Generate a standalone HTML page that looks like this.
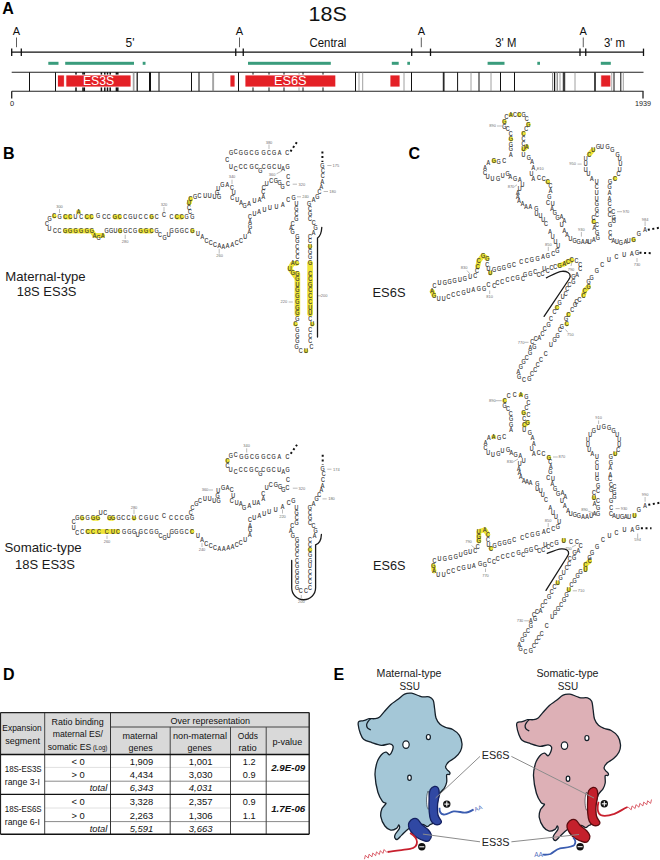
<!DOCTYPE html>
<html><head><meta charset="utf-8"><style>
html,body{margin:0;padding:0;background:#fff;width:660px;height:860px;overflow:hidden}
svg{display:block}
text{font-family:"Liberation Sans", sans-serif}
</style></head><body>
<svg width="660" height="860" viewBox="0 0 660 860">
<rect x="307.30" y="260.50" width="5.60" height="56.00" rx="2.80" fill="#eee436"/>
<rect x="294.60" y="271.00" width="5.60" height="45.50" rx="2.80" fill="#eee436"/>
<circle cx="54.20" cy="216.20" r="2.4" fill="#eee436"/>
<circle cx="65.20" cy="217.00" r="2.4" fill="#eee436"/>
<circle cx="70.20" cy="217.00" r="2.4" fill="#eee436"/>
<circle cx="86.80" cy="217.00" r="2.4" fill="#eee436"/>
<circle cx="91.40" cy="217.00" r="2.4" fill="#eee436"/>
<circle cx="114.80" cy="217.00" r="2.4" fill="#eee436"/>
<circle cx="119.60" cy="217.00" r="2.4" fill="#eee436"/>
<circle cx="151.50" cy="217.00" r="2.4" fill="#eee436"/>
<circle cx="176.80" cy="217.00" r="2.4" fill="#eee436"/>
<circle cx="181.80" cy="217.00" r="2.4" fill="#eee436"/>
<circle cx="78.50" cy="212.00" r="2.4" fill="#eee436"/>
<circle cx="189.00" cy="203.20" r="2.4" fill="#eee436"/>
<circle cx="190.50" cy="199.00" r="2.4" fill="#eee436"/>
<circle cx="310.00" cy="246.40" r="2.4" fill="#eee436"/>
<circle cx="310.10" cy="263.30" r="2.4" fill="#eee436"/>
<circle cx="310.10" cy="273.90" r="2.4" fill="#eee436"/>
<circle cx="310.10" cy="279.20" r="2.4" fill="#eee436"/>
<circle cx="310.10" cy="284.50" r="2.4" fill="#eee436"/>
<circle cx="310.10" cy="290.00" r="2.4" fill="#eee436"/>
<circle cx="310.10" cy="295.80" r="2.4" fill="#eee436"/>
<circle cx="310.10" cy="302.00" r="2.4" fill="#eee436"/>
<circle cx="310.10" cy="308.00" r="2.4" fill="#eee436"/>
<circle cx="310.10" cy="313.30" r="2.4" fill="#eee436"/>
<circle cx="312.20" cy="324.20" r="2.4" fill="#eee436"/>
<circle cx="306.00" cy="350.90" r="2.4" fill="#eee436"/>
<circle cx="295.50" cy="324.20" r="2.4" fill="#eee436"/>
<circle cx="297.40" cy="313.30" r="2.4" fill="#eee436"/>
<circle cx="297.40" cy="308.00" r="2.4" fill="#eee436"/>
<circle cx="297.40" cy="302.00" r="2.4" fill="#eee436"/>
<circle cx="297.40" cy="295.80" r="2.4" fill="#eee436"/>
<circle cx="297.40" cy="290.00" r="2.4" fill="#eee436"/>
<circle cx="297.40" cy="284.50" r="2.4" fill="#eee436"/>
<circle cx="297.40" cy="279.20" r="2.4" fill="#eee436"/>
<circle cx="297.40" cy="273.90" r="2.4" fill="#eee436"/>
<circle cx="292.80" cy="272.80" r="2.4" fill="#eee436"/>
<circle cx="289.60" cy="268.60" r="2.4" fill="#eee436"/>
<circle cx="292.80" cy="263.30" r="2.4" fill="#eee436"/>
<circle cx="297.00" cy="263.30" r="2.4" fill="#eee436"/>
<circle cx="192.40" cy="231.00" r="2.4" fill="#eee436"/>
<circle cx="65.20" cy="231.00" r="2.4" fill="#eee436"/>
<circle cx="70.20" cy="231.00" r="2.4" fill="#eee436"/>
<circle cx="75.50" cy="231.00" r="2.4" fill="#eee436"/>
<circle cx="81.20" cy="231.00" r="2.4" fill="#eee436"/>
<circle cx="86.80" cy="231.00" r="2.4" fill="#eee436"/>
<circle cx="91.80" cy="231.00" r="2.4" fill="#eee436"/>
<circle cx="94.60" cy="235.50" r="2.4" fill="#eee436"/>
<circle cx="102.70" cy="235.50" r="2.4" fill="#eee436"/>
<circle cx="120.00" cy="231.00" r="2.4" fill="#eee436"/>
<circle cx="140.50" cy="231.00" r="2.4" fill="#eee436"/>
<circle cx="146.00" cy="231.00" r="2.4" fill="#eee436"/>
<circle cx="151.50" cy="231.00" r="2.4" fill="#eee436"/>
<line x1="65.20" y1="217.00" x2="70.20" y2="217.00" stroke="#eee436" stroke-width="4.80"/>
<line x1="86.80" y1="217.00" x2="91.40" y2="217.00" stroke="#eee436" stroke-width="4.80"/>
<line x1="114.80" y1="217.00" x2="119.60" y2="217.00" stroke="#eee436" stroke-width="4.80"/>
<line x1="176.80" y1="217.00" x2="181.80" y2="217.00" stroke="#eee436" stroke-width="4.80"/>
<line x1="189.00" y1="203.20" x2="190.50" y2="199.00" stroke="#eee436" stroke-width="4.80"/>
<line x1="310.10" y1="273.90" x2="310.10" y2="279.20" stroke="#eee436" stroke-width="4.80"/>
<line x1="310.10" y1="279.20" x2="310.10" y2="284.50" stroke="#eee436" stroke-width="4.80"/>
<line x1="310.10" y1="284.50" x2="310.10" y2="290.00" stroke="#eee436" stroke-width="4.80"/>
<line x1="310.10" y1="290.00" x2="310.10" y2="295.80" stroke="#eee436" stroke-width="4.80"/>
<line x1="310.10" y1="295.80" x2="310.10" y2="302.00" stroke="#eee436" stroke-width="4.80"/>
<line x1="310.10" y1="302.00" x2="310.10" y2="308.00" stroke="#eee436" stroke-width="4.80"/>
<line x1="310.10" y1="308.00" x2="310.10" y2="313.30" stroke="#eee436" stroke-width="4.80"/>
<line x1="297.40" y1="313.30" x2="297.40" y2="308.00" stroke="#eee436" stroke-width="4.80"/>
<line x1="297.40" y1="308.00" x2="297.40" y2="302.00" stroke="#eee436" stroke-width="4.80"/>
<line x1="297.40" y1="302.00" x2="297.40" y2="295.80" stroke="#eee436" stroke-width="4.80"/>
<line x1="297.40" y1="295.80" x2="297.40" y2="290.00" stroke="#eee436" stroke-width="4.80"/>
<line x1="297.40" y1="290.00" x2="297.40" y2="284.50" stroke="#eee436" stroke-width="4.80"/>
<line x1="297.40" y1="284.50" x2="297.40" y2="279.20" stroke="#eee436" stroke-width="4.80"/>
<line x1="297.40" y1="279.20" x2="297.40" y2="273.90" stroke="#eee436" stroke-width="4.80"/>
<line x1="297.40" y1="279.20" x2="292.80" y2="272.80" stroke="#eee436" stroke-width="4.80"/>
<line x1="297.40" y1="273.90" x2="292.80" y2="272.80" stroke="#eee436" stroke-width="4.80"/>
<line x1="292.80" y1="272.80" x2="289.60" y2="268.60" stroke="#eee436" stroke-width="4.80"/>
<line x1="289.60" y1="268.60" x2="292.80" y2="263.30" stroke="#eee436" stroke-width="4.80"/>
<line x1="292.80" y1="263.30" x2="297.00" y2="263.30" stroke="#eee436" stroke-width="4.80"/>
<line x1="65.20" y1="231.00" x2="70.20" y2="231.00" stroke="#eee436" stroke-width="4.80"/>
<line x1="70.20" y1="231.00" x2="75.50" y2="231.00" stroke="#eee436" stroke-width="4.80"/>
<line x1="75.50" y1="231.00" x2="81.20" y2="231.00" stroke="#eee436" stroke-width="4.80"/>
<line x1="81.20" y1="231.00" x2="86.80" y2="231.00" stroke="#eee436" stroke-width="4.80"/>
<line x1="86.80" y1="231.00" x2="91.80" y2="231.00" stroke="#eee436" stroke-width="4.80"/>
<line x1="91.80" y1="231.00" x2="94.60" y2="235.50" stroke="#eee436" stroke-width="4.80"/>
<line x1="94.60" y1="235.50" x2="102.70" y2="235.50" stroke="#eee436" stroke-width="4.80"/>
<line x1="140.50" y1="231.00" x2="146.00" y2="231.00" stroke="#eee436" stroke-width="4.80"/>
<line x1="146.00" y1="231.00" x2="151.50" y2="231.00" stroke="#eee436" stroke-width="4.80"/>
<g font-size="6.3" fill="#303030" stroke="#303030" stroke-width="0.14" text-anchor="middle" transform="scale(0.85,1)">
<text x="58.47" y="220.70">G</text>
<text x="63.76" y="218.40">C</text>
<text x="70.00" y="219.20">G</text>
<text x="76.71" y="219.20">C</text>
<text x="82.59" y="219.20">C</text>
<text x="88.82" y="219.20">U</text>
<text x="95.53" y="219.20">C</text>
<text x="102.12" y="219.20">C</text>
<text x="107.53" y="219.20">C</text>
<text x="115.53" y="218.40">G</text>
<text x="122.59" y="219.20">C</text>
<text x="128.00" y="219.20">C</text>
<text x="135.06" y="219.20">G</text>
<text x="140.71" y="219.20">C</text>
<text x="147.41" y="219.20">C</text>
<text x="153.29" y="219.20">G</text>
<text x="159.06" y="219.20">U</text>
<text x="165.29" y="219.20">C</text>
<text x="171.76" y="219.20">C</text>
<text x="178.24" y="219.20">G</text>
<text x="184.35" y="219.20">C</text>
<text x="192.94" y="216.90">C</text>
<text x="201.76" y="219.20">C</text>
<text x="208.00" y="219.20">C</text>
<text x="213.88" y="219.20">C</text>
<text x="219.65" y="219.20">G</text>
<text x="226.35" y="219.20">G</text>
<text x="92.35" y="214.20">A</text>
<text x="223.53" y="214.20">C</text>
<text x="222.35" y="210.20">C</text>
<text x="222.35" y="205.40">U</text>
<text x="224.12" y="201.20">C</text>
<text x="229.41" y="198.70">G</text>
<text x="234.71" y="198.40">C</text>
<text x="241.53" y="198.40">U</text>
<text x="246.82" y="198.40">U</text>
<text x="252.24" y="199.50">U</text>
<text x="257.65" y="199.50">G</text>
<text x="255.29" y="195.20">G</text>
<text x="256.71" y="190.70">U</text>
<text x="261.65" y="186.90">G</text>
<text x="267.41" y="186.90">A</text>
<text x="272.94" y="189.90">C</text>
<text x="274.82" y="195.20">U</text>
<text x="273.18" y="200.00">C</text>
<text x="279.18" y="202.20">U</text>
<text x="283.53" y="204.90">A</text>
<text x="287.65" y="207.70">G</text>
<text x="292.94" y="205.80">A</text>
<text x="299.41" y="203.20">U</text>
<text x="305.41" y="202.20">A</text>
<text x="309.76" y="198.60">A</text>
<text x="309.76" y="193.70">C</text>
<text x="310.12" y="189.90">C</text>
<text x="313.76" y="186.20">U</text>
<text x="319.06" y="183.40">C</text>
<text x="324.47" y="183.40">G</text>
<text x="328.82" y="184.90">G</text>
<text x="332.47" y="189.20">G</text>
<text x="338.71" y="186.40">C</text>
<text x="271.76" y="155.50">G</text>
<text x="277.18" y="153.60">C</text>
<text x="283.41" y="155.50">G</text>
<text x="289.65" y="155.50">G</text>
<text x="295.88" y="155.50">C</text>
<text x="302.12" y="155.50">G</text>
<text x="310.12" y="155.50">G</text>
<text x="316.47" y="155.50">C</text>
<text x="322.59" y="155.50">G</text>
<text x="328.82" y="155.50">A</text>
<text x="337.76" y="155.50">C</text>
<text x="267.41" y="161.90">C</text>
<text x="271.76" y="169.50">U</text>
<text x="277.18" y="171.00">C</text>
<text x="283.06" y="169.50">C</text>
<text x="288.82" y="169.50">C</text>
<text x="295.88" y="169.50">G</text>
<text x="302.12" y="169.50">C</text>
<text x="306.24" y="173.20">G</text>
<text x="310.12" y="169.50">C</text>
<text x="316.47" y="169.50">G</text>
<text x="322.59" y="169.50">C</text>
<text x="328.82" y="169.50">U</text>
<text x="332.94" y="171.00">A</text>
<text x="338.35" y="169.50">G</text>
<text x="339.18" y="178.60">C</text>
<text x="379.29" y="167.70">G</text>
<text x="380.00" y="173.20">C</text>
<text x="379.76" y="178.00">C</text>
<text x="379.29" y="184.40">A</text>
<text x="377.88" y="189.50">A</text>
<text x="375.76" y="193.70">C</text>
<text x="373.29" y="198.60">G</text>
<text x="368.94" y="202.20">A</text>
<text x="363.53" y="205.80">G</text>
<text x="364.71" y="211.20">C</text>
<text x="364.71" y="216.20">G</text>
<text x="364.71" y="221.20">C</text>
<text x="368.94" y="225.20">C</text>
<text x="371.18" y="230.40">G</text>
<text x="368.94" y="234.90">A</text>
<text x="364.71" y="238.60">C</text>
<text x="364.71" y="243.20">C</text>
<text x="364.71" y="248.60">U</text>
<text x="364.82" y="253.80">G</text>
<text x="364.82" y="259.40">G</text>
<text x="364.82" y="265.50">G</text>
<text x="364.82" y="276.10">C</text>
<text x="364.82" y="281.40">C</text>
<text x="364.82" y="286.70">G</text>
<text x="364.82" y="292.20">C</text>
<text x="364.82" y="298.00">C</text>
<text x="364.82" y="304.20">C</text>
<text x="364.82" y="310.20">U</text>
<text x="364.82" y="315.50">U</text>
<text x="364.82" y="321.10">C</text>
<text x="367.29" y="326.40">U</text>
<text x="364.82" y="331.90">C</text>
<text x="364.82" y="337.70">C</text>
<text x="364.82" y="343.30">C</text>
<text x="366.35" y="348.90">C</text>
<text x="360.00" y="353.10">U</text>
<text x="353.88" y="353.10">C</text>
<text x="348.82" y="348.90">G</text>
<text x="349.88" y="343.30">G</text>
<text x="349.88" y="337.70">G</text>
<text x="349.88" y="331.90">G</text>
<text x="347.65" y="326.40">C</text>
<text x="349.88" y="321.10">G</text>
<text x="349.88" y="315.50">G</text>
<text x="349.88" y="310.20">G</text>
<text x="349.88" y="304.20">G</text>
<text x="349.88" y="298.00">G</text>
<text x="349.88" y="292.20">G</text>
<text x="349.88" y="286.70">U</text>
<text x="349.88" y="281.40">G</text>
<text x="349.88" y="276.10">G</text>
<text x="344.47" y="275.00">G</text>
<text x="340.71" y="270.80">U</text>
<text x="344.47" y="265.50">A</text>
<text x="349.41" y="265.50">C</text>
<text x="349.88" y="259.40">C</text>
<text x="349.88" y="253.80">C</text>
<text x="349.76" y="248.70">C</text>
<text x="349.76" y="243.20">G</text>
<text x="349.76" y="238.70">G</text>
<text x="344.35" y="234.20">G</text>
<text x="342.35" y="230.00">A</text>
<text x="344.35" y="225.80">C</text>
<text x="348.71" y="221.20">G</text>
<text x="348.71" y="216.20">C</text>
<text x="348.71" y="211.20">G</text>
<text x="348.71" y="205.80">U</text>
<text x="345.41" y="199.80">G</text>
<text x="339.06" y="202.20">C</text>
<text x="332.59" y="206.70">A</text>
<text x="325.18" y="209.50">U</text>
<text x="317.65" y="210.40">U</text>
<text x="311.18" y="211.80">U</text>
<text x="304.71" y="213.70">A</text>
<text x="299.41" y="215.80">U</text>
<text x="294.12" y="219.50">C</text>
<text x="294.12" y="224.00">A</text>
<text x="294.12" y="228.60">G</text>
<text x="293.41" y="234.10">A</text>
<text x="288.35" y="239.40">U</text>
<text x="283.41" y="242.60">C</text>
<text x="278.47" y="244.70">C</text>
<text x="273.41" y="246.80">A</text>
<text x="267.76" y="248.40">A</text>
<text x="262.82" y="249.50">A</text>
<text x="257.88" y="248.40">A</text>
<text x="252.94" y="246.80">C</text>
<text x="247.88" y="245.20">C</text>
<text x="242.82" y="242.60">C</text>
<text x="237.88" y="239.40">A</text>
<text x="232.94" y="235.70">U</text>
<text x="226.35" y="233.20">G</text>
<text x="55.29" y="226.00">C</text>
<text x="58.12" y="231.20">U</text>
<text x="64.71" y="233.20">C</text>
<text x="70.00" y="233.20">C</text>
<text x="76.71" y="233.20">G</text>
<text x="82.59" y="233.20">G</text>
<text x="88.82" y="233.20">G</text>
<text x="95.53" y="233.20">G</text>
<text x="102.12" y="233.20">G</text>
<text x="108.00" y="233.20">G</text>
<text x="111.29" y="237.70">A</text>
<text x="116.00" y="239.70">G</text>
<text x="120.82" y="237.70">A</text>
<text x="125.29" y="233.20">G</text>
<text x="130.59" y="233.20">G</text>
<text x="135.88" y="233.20">U</text>
<text x="141.18" y="233.20">G</text>
<text x="147.41" y="233.20">G</text>
<text x="153.29" y="233.20">C</text>
<text x="159.06" y="233.20">G</text>
<text x="165.29" y="233.20">G</text>
<text x="171.76" y="233.20">G</text>
<text x="178.24" y="233.20">C</text>
<text x="184.35" y="233.20">G</text>
<text x="188.24" y="236.90">C</text>
<text x="193.76" y="239.90">G</text>
<text x="198.59" y="237.20">U</text>
<text x="201.76" y="233.20">G</text>
<text x="208.00" y="233.20">G</text>
<text x="213.88" y="233.20">G</text>
<text x="219.65" y="233.20">C</text>
</g>
<g font-size="4.0" fill="#707070" text-anchor="middle">
<text x="59.50" y="207.70">300</text>
<text x="125.20" y="242.80">280</text>
<text x="164.00" y="206.10">320</text>
<text x="269.00" y="143.60">380</text>
<text x="272.20" y="175.60">360</text>
<text x="232.00" y="178.30">340</text>
<text x="301.80" y="185.50">320</text>
<text x="335.80" y="166.80">175</text>
<text x="332.70" y="192.80">180</text>
<text x="305.50" y="198.10">240</text>
<text x="219.70" y="257.10">260</text>
<text x="283.80" y="303.30">220</text>
<text x="324.20" y="297.10">200</text>
</g>
<line x1="59.5" y1="209" x2="59.5" y2="213" stroke="#777" stroke-width="0.5"/>
<line x1="125.2" y1="234.7" x2="125.2" y2="239" stroke="#777" stroke-width="0.5"/>
<line x1="164" y1="207" x2="164" y2="211.7" stroke="#777" stroke-width="0.5"/>
<line x1="269" y1="144.5" x2="269" y2="149" stroke="#777" stroke-width="0.5"/>
<line x1="276.5" y1="173.8" x2="281.8" y2="171" stroke="#777" stroke-width="0.5"/>
<line x1="232" y1="179.7" x2="232" y2="184" stroke="#777" stroke-width="0.5"/>
<line x1="292.7" y1="184.2" x2="297" y2="184.2" stroke="#777" stroke-width="0.5"/>
<line x1="327.3" y1="165.5" x2="331.5" y2="165.5" stroke="#777" stroke-width="0.5"/>
<line x1="323.6" y1="191.5" x2="328" y2="191.5" stroke="#777" stroke-width="0.5"/>
<line x1="297" y1="196.8" x2="301" y2="196.8" stroke="#777" stroke-width="0.5"/>
<line x1="219.2" y1="248.9" x2="219.2" y2="253.6" stroke="#777" stroke-width="0.5"/>
<line x1="288.6" y1="302" x2="292.8" y2="302" stroke="#777" stroke-width="0.5"/>
<line x1="317.5" y1="295.8" x2="321" y2="295.8" stroke="#777" stroke-width="0.5"/>
<line x1="290.5" y1="151.5" x2="298" y2="140.5" stroke="#111" stroke-width="2" stroke-dasharray="2 2.6"/>
<line x1="322.4" y1="151.5" x2="322.4" y2="162" stroke="#111" stroke-width="2" stroke-dasharray="2 2.6"/>
<path d="M321.8,227.3 C321.5,233 320,236.5 317.5,238 L317.5,337" fill="none" stroke="#1a1a1a" stroke-width="1.3" stroke-linecap="round"/>
<circle cx="82.10" cy="518.30" r="2.4" fill="#eee436"/>
<circle cx="93.00" cy="518.30" r="2.4" fill="#eee436"/>
<circle cx="97.90" cy="518.30" r="2.4" fill="#eee436"/>
<circle cx="109.40" cy="518.30" r="2.4" fill="#eee436"/>
<circle cx="113.00" cy="518.30" r="2.4" fill="#eee436"/>
<circle cx="134.00" cy="518.30" r="2.4" fill="#eee436"/>
<circle cx="87.60" cy="531.50" r="2.4" fill="#eee436"/>
<circle cx="93.00" cy="531.50" r="2.4" fill="#eee436"/>
<circle cx="99.00" cy="531.50" r="2.4" fill="#eee436"/>
<circle cx="106.60" cy="531.50" r="2.4" fill="#eee436"/>
<circle cx="113.00" cy="531.50" r="2.4" fill="#eee436"/>
<circle cx="117.90" cy="531.50" r="2.4" fill="#eee436"/>
<circle cx="192.00" cy="531.50" r="2.4" fill="#eee436"/>
<circle cx="227.50" cy="460.80" r="2.4" fill="#eee436"/>
<circle cx="310.00" cy="549.80" r="2.4" fill="#eee436"/>
<line x1="93.00" y1="518.30" x2="97.90" y2="518.30" stroke="#eee436" stroke-width="4.80"/>
<line x1="109.40" y1="518.30" x2="113.00" y2="518.30" stroke="#eee436" stroke-width="4.80"/>
<line x1="87.60" y1="531.50" x2="93.00" y2="531.50" stroke="#eee436" stroke-width="4.80"/>
<line x1="93.00" y1="531.50" x2="99.00" y2="531.50" stroke="#eee436" stroke-width="4.80"/>
<line x1="99.00" y1="531.50" x2="106.60" y2="531.50" stroke="#eee436" stroke-width="4.80"/>
<line x1="106.60" y1="531.50" x2="113.00" y2="531.50" stroke="#eee436" stroke-width="4.80"/>
<line x1="113.00" y1="531.50" x2="117.90" y2="531.50" stroke="#eee436" stroke-width="4.80"/>
<g font-size="6.3" fill="#303030" stroke="#303030" stroke-width="0.14" text-anchor="middle" transform="scale(0.85,1)">
<text x="90.94" y="520.00">G</text>
<text x="96.59" y="520.50">G</text>
<text x="103.06" y="520.50">G</text>
<text x="109.41" y="520.50">G</text>
<text x="115.18" y="520.50">G</text>
<text x="118.35" y="515.20">U</text>
<text x="123.76" y="515.20">C</text>
<text x="128.71" y="520.50">G</text>
<text x="132.94" y="520.50">G</text>
<text x="139.41" y="520.50">G</text>
<text x="145.06" y="520.50">C</text>
<text x="151.06" y="520.50">C</text>
<text x="157.65" y="520.50">U</text>
<text x="165.65" y="520.50">C</text>
<text x="171.76" y="520.50">G</text>
<text x="178.12" y="520.50">U</text>
<text x="184.35" y="520.50">C</text>
<text x="192.94" y="518.20">C</text>
<text x="201.18" y="520.50">C</text>
<text x="207.53" y="520.50">C</text>
<text x="213.76" y="520.50">C</text>
<text x="220.00" y="520.50">G</text>
<text x="225.88" y="520.50">G</text>
<text x="86.59" y="524.00">C</text>
<text x="86.59" y="530.40">U</text>
<text x="90.94" y="534.60">C</text>
<text x="96.59" y="534.00">C</text>
<text x="103.06" y="533.70">C</text>
<text x="109.41" y="533.70">C</text>
<text x="116.47" y="533.70">C</text>
<text x="125.41" y="533.70">C</text>
<text x="132.94" y="533.70">U</text>
<text x="138.71" y="533.70">C</text>
<text x="145.88" y="533.70">G</text>
<text x="152.24" y="533.70">G</text>
<text x="157.65" y="533.70">G</text>
<text x="162.00" y="537.50">U</text>
<text x="165.65" y="533.70">G</text>
<text x="171.76" y="533.70">C</text>
<text x="178.12" y="533.70">G</text>
<text x="184.35" y="533.70">G</text>
<text x="188.82" y="538.20">C</text>
<text x="193.53" y="540.50">G</text>
<text x="198.59" y="538.20">U</text>
<text x="202.12" y="533.70">G</text>
<text x="207.53" y="533.70">G</text>
<text x="213.76" y="533.70">G</text>
<text x="219.65" y="533.70">C</text>
<text x="225.88" y="533.70">C</text>
<text x="224.47" y="514.70">C</text>
<text x="226.47" y="510.50">C</text>
<text x="230.94" y="506.40">G</text>
<text x="235.29" y="503.00">C</text>
<text x="241.18" y="501.40">U</text>
<text x="246.71" y="501.40">U</text>
<text x="252.00" y="503.50">U</text>
<text x="257.29" y="503.50">G</text>
<text x="255.88" y="498.00">G</text>
<text x="256.82" y="493.00">U</text>
<text x="262.35" y="489.70">G</text>
<text x="267.65" y="490.20">A</text>
<text x="272.59" y="492.20">C</text>
<text x="274.47" y="498.00">U</text>
<text x="272.59" y="503.00">C</text>
<text x="278.47" y="504.70">U</text>
<text x="283.29" y="506.40">A</text>
<text x="287.29" y="509.70">G</text>
<text x="293.18" y="508.00">A</text>
<text x="299.06" y="505.50">U</text>
<text x="303.88" y="504.70">A</text>
<text x="309.76" y="501.40">A</text>
<text x="309.76" y="496.40">C</text>
<text x="313.76" y="489.70">U</text>
<text x="318.59" y="487.20">C</text>
<text x="324.47" y="487.20">G</text>
<text x="329.41" y="488.90">G</text>
<text x="333.29" y="492.20">G</text>
<text x="338.24" y="490.50">C</text>
<text x="267.65" y="463.00">C</text>
<text x="271.53" y="458.50">G</text>
<text x="277.41" y="456.90">C</text>
<text x="283.88" y="458.90">G</text>
<text x="290.24" y="458.90">G</text>
<text x="296.47" y="458.90">C</text>
<text x="302.35" y="458.90">G</text>
<text x="309.76" y="458.90">G</text>
<text x="316.12" y="458.90">C</text>
<text x="322.00" y="458.90">G</text>
<text x="328.47" y="458.90">A</text>
<text x="338.24" y="458.60">C</text>
<text x="267.65" y="468.00">C</text>
<text x="271.53" y="472.20">U</text>
<text x="277.41" y="473.90">C</text>
<text x="283.29" y="472.20">C</text>
<text x="289.18" y="472.20">C</text>
<text x="295.65" y="472.20">G</text>
<text x="302.00" y="472.20">C</text>
<text x="306.24" y="476.40">G</text>
<text x="309.76" y="472.20">C</text>
<text x="316.12" y="472.20">G</text>
<text x="322.00" y="472.20">C</text>
<text x="328.47" y="472.20">U</text>
<text x="333.29" y="474.00">A</text>
<text x="338.24" y="472.40">G</text>
<text x="338.82" y="482.00">C</text>
<text x="379.65" y="471.40">G</text>
<text x="380.71" y="476.20">C</text>
<text x="380.00" y="482.00">C</text>
<text x="379.41" y="487.80">A</text>
<text x="378.12" y="492.00">A</text>
<text x="375.65" y="496.80">C</text>
<text x="372.59" y="501.10">G</text>
<text x="368.82" y="505.80">A</text>
<text x="364.47" y="509.60">G</text>
<text x="348.82" y="509.60">U</text>
<text x="345.06" y="502.60">G</text>
<text x="339.53" y="504.80">C</text>
<text x="332.35" y="509.20">A</text>
<text x="324.47" y="512.20">U</text>
<text x="316.71" y="513.90">U</text>
<text x="310.82" y="515.90">U</text>
<text x="304.94" y="518.00">A</text>
<text x="299.06" y="520.50">U</text>
<text x="294.12" y="522.50">C</text>
<text x="294.12" y="528.00">A</text>
<text x="294.12" y="532.50">G</text>
<text x="293.76" y="537.50">A</text>
<text x="288.59" y="541.90">U</text>
<text x="283.29" y="544.70">C</text>
<text x="278.47" y="547.20">C</text>
<text x="273.53" y="549.00">A</text>
<text x="268.59" y="550.20">A</text>
<text x="263.18" y="551.40">A</text>
<text x="257.88" y="551.40">A</text>
<text x="252.94" y="550.20">C</text>
<text x="248.00" y="548.00">C</text>
<text x="242.71" y="545.90">C</text>
<text x="237.65" y="541.90">A</text>
<text x="232.94" y="538.00">U</text>
<text x="349.06" y="514.70">G</text>
<text x="349.06" y="519.70">C</text>
<text x="349.06" y="525.00">G</text>
<text x="343.88" y="528.20">C</text>
<text x="342.00" y="533.50">A</text>
<text x="344.47" y="538.20">G</text>
<text x="349.41" y="542.00">G</text>
<text x="349.41" y="546.70">G</text>
<text x="349.41" y="552.00">G</text>
<text x="349.41" y="557.30">C</text>
<text x="349.41" y="562.60">C</text>
<text x="349.41" y="568.50">G</text>
<text x="349.41" y="573.90">G</text>
<text x="349.41" y="579.20">G</text>
<text x="349.41" y="584.50">G</text>
<text x="349.41" y="589.60">G</text>
<text x="353.88" y="593.00">C</text>
<text x="360.00" y="593.00">C</text>
<text x="364.71" y="514.70">C</text>
<text x="364.71" y="519.70">G</text>
<text x="364.71" y="525.00">C</text>
<text x="368.82" y="528.20">C</text>
<text x="371.29" y="533.00">G</text>
<text x="370.00" y="538.20">A</text>
<text x="364.71" y="542.00">C</text>
<text x="364.71" y="546.70">C</text>
<text x="364.71" y="552.00">C</text>
<text x="364.71" y="557.30">G</text>
<text x="364.71" y="562.60">G</text>
<text x="364.71" y="568.50">U</text>
<text x="364.71" y="573.90">C</text>
<text x="364.71" y="579.20">C</text>
<text x="364.71" y="584.50">C</text>
<text x="364.71" y="589.60">C</text>
</g>
<g font-size="4.0" fill="#707070" text-anchor="middle">
<text x="134.00" y="508.60">280</text>
<text x="107.00" y="542.80">260</text>
<text x="205.00" y="491.30">360</text>
<text x="246.70" y="447.10">340</text>
<text x="301.80" y="489.50">320</text>
<text x="336.30" y="470.50">174</text>
<text x="331.50" y="500.20">180</text>
<text x="282.50" y="518.00">220</text>
<text x="202.00" y="551.30">240</text>
<text x="301.30" y="602.70">200</text>
</g>
<line x1="134" y1="509.5" x2="134" y2="514" stroke="#777" stroke-width="0.5"/>
<line x1="107" y1="535.5" x2="107" y2="539" stroke="#777" stroke-width="0.5"/>
<line x1="208.5" y1="490" x2="213" y2="490" stroke="#777" stroke-width="0.5"/>
<line x1="246.7" y1="448.3" x2="246.7" y2="452.5" stroke="#777" stroke-width="0.5"/>
<line x1="292.8" y1="488.2" x2="297.6" y2="488.2" stroke="#777" stroke-width="0.5"/>
<line x1="327.3" y1="469.2" x2="331.5" y2="469.2" stroke="#777" stroke-width="0.5"/>
<line x1="322.5" y1="498.9" x2="326.7" y2="498.9" stroke="#777" stroke-width="0.5"/>
<line x1="282.5" y1="509.5" x2="282.5" y2="513.5" stroke="#777" stroke-width="0.5"/>
<line x1="202" y1="543" x2="202" y2="547" stroke="#777" stroke-width="0.5"/>
<line x1="301.3" y1="595" x2="301.3" y2="598" stroke="#777" stroke-width="0.5"/>
<line x1="290.7" y1="453.8" x2="297" y2="444.8" stroke="#111" stroke-width="2" stroke-dasharray="2 2.6"/>
<line x1="322.7" y1="454.8" x2="322.7" y2="464.6" stroke="#111" stroke-width="2" stroke-dasharray="2 2.6"/>
<path d="M321.4,534.5 C321.2,540 319.5,543.5 315.6,544.8 L315.6,587.8 A11.95,11.95 0 0 1 291.7,587.8 L291.7,560.4" fill="none" stroke="#1a1a1a" stroke-width="1.3" stroke-linecap="round"/>
<circle cx="504.40" cy="121.70" r="2.4" fill="#eee436"/>
<circle cx="510.80" cy="114.80" r="2.4" fill="#eee436"/>
<circle cx="519.20" cy="114.80" r="2.4" fill="#eee436"/>
<circle cx="528.30" cy="124.40" r="2.4" fill="#eee436"/>
<circle cx="523.50" cy="133.40" r="2.4" fill="#eee436"/>
<circle cx="526.70" cy="146.70" r="2.4" fill="#eee436"/>
<circle cx="523.50" cy="149.30" r="2.4" fill="#eee436"/>
<circle cx="547.80" cy="182.00" r="2.4" fill="#eee436"/>
<circle cx="510.80" cy="139.20" r="2.4" fill="#eee436"/>
<circle cx="493.90" cy="160.90" r="2.4" fill="#eee436"/>
<circle cx="490.30" cy="273.00" r="2.4" fill="#eee436"/>
<circle cx="487.30" cy="258.50" r="2.4" fill="#eee436"/>
<circle cx="483.00" cy="255.50" r="2.4" fill="#eee436"/>
<circle cx="478.80" cy="261.00" r="2.4" fill="#eee436"/>
<circle cx="477.60" cy="267.00" r="2.4" fill="#eee436"/>
<circle cx="432.10" cy="291.20" r="2.4" fill="#eee436"/>
<circle cx="434.00" cy="295.50" r="2.4" fill="#eee436"/>
<circle cx="559.60" cy="265.50" r="2.4" fill="#eee436"/>
<circle cx="564.20" cy="263.90" r="2.4" fill="#eee436"/>
<circle cx="568.00" cy="261.70" r="2.4" fill="#eee436"/>
<circle cx="571.80" cy="260.20" r="2.4" fill="#eee436"/>
<circle cx="557.00" cy="307.40" r="2.4" fill="#eee436"/>
<circle cx="566.70" cy="324.10" r="2.4" fill="#eee436"/>
<circle cx="568.50" cy="314.40" r="2.4" fill="#eee436"/>
<circle cx="583.40" cy="295.60" r="2.4" fill="#eee436"/>
<circle cx="584.70" cy="290.50" r="2.4" fill="#eee436"/>
<circle cx="588.50" cy="286.70" r="2.4" fill="#eee436"/>
<circle cx="589.10" cy="154.60" r="2.4" fill="#eee436"/>
<circle cx="593.20" cy="149.80" r="2.4" fill="#eee436"/>
<circle cx="615.00" cy="178.40" r="2.4" fill="#eee436"/>
<circle cx="633.50" cy="239.80" r="2.4" fill="#eee436"/>
<circle cx="593.70" cy="221.70" r="2.4" fill="#eee436"/>
<line x1="526.70" y1="146.70" x2="523.50" y2="149.30" stroke="#eee436" stroke-width="4.80"/>
<line x1="487.30" y1="258.50" x2="483.00" y2="255.50" stroke="#eee436" stroke-width="4.80"/>
<line x1="483.00" y1="255.50" x2="478.80" y2="261.00" stroke="#eee436" stroke-width="4.80"/>
<line x1="478.80" y1="261.00" x2="477.60" y2="267.00" stroke="#eee436" stroke-width="4.80"/>
<line x1="432.10" y1="291.20" x2="434.00" y2="295.50" stroke="#eee436" stroke-width="4.80"/>
<line x1="559.60" y1="265.50" x2="564.20" y2="263.90" stroke="#eee436" stroke-width="4.80"/>
<line x1="564.20" y1="263.90" x2="568.00" y2="261.70" stroke="#eee436" stroke-width="4.80"/>
<line x1="568.00" y1="261.70" x2="571.80" y2="260.20" stroke="#eee436" stroke-width="4.80"/>
<line x1="583.40" y1="295.60" x2="584.70" y2="290.50" stroke="#eee436" stroke-width="4.80"/>
<line x1="584.70" y1="290.50" x2="588.50" y2="286.70" stroke="#eee436" stroke-width="4.80"/>
<line x1="589.10" y1="154.60" x2="593.20" y2="149.80" stroke="#eee436" stroke-width="4.80"/>
<g font-size="6.3" fill="#303030" stroke="#303030" stroke-width="0.14" text-anchor="middle" transform="scale(0.85,1)">
<text x="593.41" y="123.90">G</text>
<text x="595.88" y="118.60">C</text>
<text x="600.94" y="117.00">A</text>
<text x="605.88" y="117.00">C</text>
<text x="610.82" y="117.00">C</text>
<text x="615.88" y="117.00">G</text>
<text x="619.65" y="120.80">C</text>
<text x="621.53" y="126.60">G</text>
<text x="618.94" y="130.80">C</text>
<text x="615.88" y="135.60">C</text>
<text x="615.88" y="141.40">C</text>
<text x="615.88" y="145.70">C</text>
<text x="619.65" y="148.90">A</text>
<text x="615.88" y="151.50">U</text>
<text x="615.88" y="156.80">U</text>
<text x="622.12" y="159.70">G</text>
<text x="626.00" y="164.50">A</text>
<text x="627.53" y="169.90">A</text>
<text x="625.18" y="176.10">U</text>
<text x="627.53" y="180.80">A</text>
<text x="634.00" y="180.20">C</text>
<text x="639.65" y="180.80">C</text>
<text x="644.47" y="184.20">C</text>
<text x="647.65" y="188.40">C</text>
<text x="647.65" y="193.20">A</text>
<text x="646.24" y="198.60">G</text>
<text x="644.71" y="205.40">C</text>
<text x="650.24" y="206.10">U</text>
<text x="649.41" y="210.80">A</text>
<text x="652.71" y="214.90">G</text>
<text x="655.88" y="219.70">G</text>
<text x="660.71" y="219.00">A</text>
<text x="663.88" y="223.20">A</text>
<text x="660.71" y="227.20">U</text>
<text x="663.88" y="232.70">A</text>
<text x="667.06" y="237.40">A</text>
<text x="671.18" y="240.90">U</text>
<text x="676.00" y="242.90">G</text>
<text x="680.82" y="243.60">G</text>
<text x="685.65" y="244.20">A</text>
<text x="690.35" y="244.20">A</text>
<text x="693.65" y="243.60">U</text>
<text x="698.47" y="242.20">A</text>
<text x="703.29" y="240.20">G</text>
<text x="593.41" y="128.70">G</text>
<text x="597.18" y="131.40">C</text>
<text x="600.94" y="136.10">C</text>
<text x="600.94" y="141.40">G</text>
<text x="600.94" y="146.70">G</text>
<text x="600.94" y="151.50">G</text>
<text x="600.94" y="156.80">A</text>
<text x="574.59" y="165.20">A</text>
<text x="581.06" y="163.10">G</text>
<text x="586.59" y="164.50">G</text>
<text x="593.06" y="163.10">C</text>
<text x="570.59" y="169.90">A</text>
<text x="570.59" y="174.70">C</text>
<text x="573.76" y="178.80">U</text>
<text x="579.41" y="181.50">U</text>
<text x="585.88" y="180.80">G</text>
<text x="591.41" y="178.10">U</text>
<text x="597.06" y="176.10">G</text>
<text x="600.24" y="178.80">A</text>
<text x="605.88" y="180.80">G</text>
<text x="611.53" y="182.20">A</text>
<text x="614.71" y="187.00">U</text>
<text x="611.53" y="191.10">U</text>
<text x="609.06" y="195.20">A</text>
<text x="609.06" y="199.30">A</text>
<text x="610.71" y="203.40">A</text>
<text x="614.71" y="206.10">A</text>
<text x="618.94" y="208.80">A</text>
<text x="623.76" y="209.50">A</text>
<text x="631.06" y="210.80">G</text>
<text x="631.06" y="216.30">U</text>
<text x="635.88" y="218.30">U</text>
<text x="639.06" y="222.40">U</text>
<text x="642.24" y="226.50">C</text>
<text x="647.06" y="234.00">A</text>
<text x="650.24" y="238.80">U</text>
<text x="653.53" y="243.60">U</text>
<text x="656.82" y="248.20">U</text>
<text x="655.65" y="252.80">G</text>
<text x="650.71" y="256.50">C</text>
<text x="644.47" y="257.60">G</text>
<text x="638.82" y="259.20">A</text>
<text x="632.59" y="260.80">G</text>
<text x="625.76" y="261.80">G</text>
<text x="619.53" y="263.40">C</text>
<text x="613.29" y="264.50">C</text>
<text x="604.59" y="267.10">C</text>
<text x="598.94" y="268.20">G</text>
<text x="592.71" y="269.80">G</text>
<text x="587.06" y="270.80">G</text>
<text x="581.41" y="272.40">G</text>
<text x="576.82" y="275.20">U</text>
<text x="574.71" y="271.00">U</text>
<text x="573.29" y="266.70">C</text>
<text x="573.29" y="260.70">G</text>
<text x="568.24" y="257.70">G</text>
<text x="563.29" y="263.20">C</text>
<text x="561.88" y="269.20">C</text>
<text x="561.18" y="273.40">C</text>
<text x="559.06" y="277.70">C</text>
<text x="553.29" y="278.90">U</text>
<text x="546.82" y="280.70">G</text>
<text x="541.18" y="281.90">U</text>
<text x="534.71" y="283.10">G</text>
<text x="529.06" y="284.30">G</text>
<text x="523.29" y="284.90">G</text>
<text x="516.94" y="284.90">U</text>
<text x="511.18" y="288.00">C</text>
<text x="508.35" y="293.40">A</text>
<text x="510.59" y="297.70">G</text>
<text x="516.24" y="301.30">U</text>
<text x="521.88" y="301.30">U</text>
<text x="527.65" y="298.90">C</text>
<text x="533.29" y="297.00">C</text>
<text x="539.06" y="296.40">C</text>
<text x="545.41" y="294.60">G</text>
<text x="551.18" y="293.40">U</text>
<text x="556.82" y="292.20">A</text>
<text x="563.29" y="291.00">G</text>
<text x="569.65" y="291.00">G</text>
<text x="574.71" y="287.40">C</text>
<text x="581.41" y="288.30">C</text>
<text x="585.18" y="285.20">C</text>
<text x="590.82" y="283.60">C</text>
<text x="597.06" y="282.00">C</text>
<text x="603.29" y="280.90">C</text>
<text x="608.94" y="279.80">G</text>
<text x="615.18" y="281.40">C</text>
<text x="617.65" y="276.70">G</text>
<text x="623.88" y="275.60">G</text>
<text x="629.53" y="274.50">C</text>
<text x="633.88" y="277.20">C</text>
<text x="638.24" y="276.20">C</text>
<text x="640.12" y="271.40">U</text>
<text x="644.47" y="273.50">C</text>
<text x="648.82" y="270.30">C</text>
<text x="653.18" y="269.20">C</text>
<text x="658.35" y="267.70">G</text>
<text x="663.76" y="266.10">A</text>
<text x="668.24" y="263.90">C</text>
<text x="672.71" y="262.40">C</text>
<text x="678.12" y="263.10">C</text>
<text x="682.59" y="266.90">C</text>
<text x="682.59" y="271.40">C</text>
<text x="678.94" y="276.70">A</text>
<text x="674.47" y="279.00">G</text>
<text x="674.47" y="283.60">G</text>
<text x="670.00" y="286.60">C</text>
<text x="667.41" y="291.10">C</text>
<text x="665.65" y="295.70">C</text>
<text x="662.00" y="299.50">U</text>
<text x="658.47" y="304.80">G</text>
<text x="655.29" y="309.60">C</text>
<text x="652.35" y="314.20">C</text>
<text x="648.12" y="321.40">C</text>
<text x="645.29" y="326.90">G</text>
<text x="640.94" y="331.20">C</text>
<text x="638.12" y="336.00">C</text>
<text x="634.59" y="340.20">A</text>
<text x="630.35" y="341.40">C</text>
<text x="626.00" y="344.50">C</text>
<text x="628.59" y="348.90">G</text>
<text x="623.88" y="349.90">A</text>
<text x="623.53" y="355.40">G</text>
<text x="619.65" y="360.20">C</text>
<text x="615.88" y="364.50">G</text>
<text x="612.71" y="369.20">G</text>
<text x="609.65" y="374.00">A</text>
<text x="610.82" y="378.80">G</text>
<text x="616.47" y="382.00">C</text>
<text x="622.71" y="380.90">G</text>
<text x="625.88" y="376.20">C</text>
<text x="629.53" y="371.90">C</text>
<text x="632.71" y="367.20">C</text>
<text x="636.47" y="362.30">C</text>
<text x="641.88" y="355.70">C</text>
<text x="648.12" y="346.90">U</text>
<text x="652.35" y="342.00">G</text>
<text x="656.00" y="337.80">G</text>
<text x="658.82" y="331.70">C</text>
<text x="660.94" y="328.70">G</text>
<text x="666.71" y="326.30">C</text>
<text x="666.00" y="320.80">G</text>
<text x="668.82" y="316.60">C</text>
<text x="673.06" y="312.40">C</text>
<text x="676.71" y="307.50">G</text>
<text x="678.12" y="303.90">C</text>
<text x="681.65" y="302.00">C</text>
<text x="686.35" y="297.80">C</text>
<text x="687.88" y="292.70">C</text>
<text x="692.35" y="288.90">G</text>
<text x="692.35" y="283.60">G</text>
<text x="695.88" y="279.80">G</text>
<text x="702.12" y="273.00">G</text>
<text x="708.35" y="266.90">C</text>
<text x="716.47" y="262.40">U</text>
<text x="725.29" y="259.30">C</text>
<text x="734.24" y="257.00">U</text>
<text x="743.18" y="256.30">A</text>
<text x="749.41" y="255.00">G</text>
<text x="689.06" y="172.40">U</text>
<text x="689.06" y="166.30">U</text>
<text x="689.06" y="160.80">U</text>
<text x="693.06" y="156.80">C</text>
<text x="697.88" y="152.00">U</text>
<text x="703.53" y="149.20">G</text>
<text x="708.24" y="148.60">U</text>
<text x="714.71" y="149.20">G</text>
<text x="720.35" y="152.40">G</text>
<text x="726.71" y="156.80">G</text>
<text x="729.18" y="161.50">U</text>
<text x="730.00" y="166.30">U</text>
<text x="729.18" y="171.80">U</text>
<text x="727.53" y="176.50">C</text>
<text x="723.53" y="180.60">C</text>
<text x="717.88" y="184.00">G</text>
<text x="717.18" y="189.50">G</text>
<text x="717.18" y="194.60">A</text>
<text x="717.18" y="201.20">A</text>
<text x="717.18" y="206.50">C</text>
<text x="717.18" y="211.80">C</text>
<text x="721.53" y="214.50">C</text>
<text x="717.18" y="217.20">C</text>
<text x="722.24" y="219.80">G</text>
<text x="722.24" y="223.50">G</text>
<text x="717.76" y="226.70">G</text>
<text x="717.76" y="235.20">C</text>
<text x="717.76" y="240.50">C</text>
<text x="721.53" y="243.10">A</text>
<text x="725.88" y="244.20">U</text>
<text x="730.35" y="244.70">G</text>
<text x="735.88" y="243.60">A</text>
<text x="739.65" y="243.10">U</text>
<text x="745.29" y="242.00">G</text>
<text x="751.53" y="235.70">G</text>
<text x="758.94" y="232.50">A</text>
<text x="692.24" y="176.50">U</text>
<text x="696.24" y="180.60">A</text>
<text x="701.88" y="184.00">U</text>
<text x="701.88" y="189.50">C</text>
<text x="701.88" y="194.60">U</text>
<text x="701.88" y="201.20">U</text>
<text x="702.24" y="206.50">G</text>
<text x="702.24" y="211.80">G</text>
<text x="702.24" y="217.00">C</text>
<text x="698.24" y="219.80">C</text>
<text x="698.47" y="223.90">C</text>
<text x="702.24" y="226.70">C</text>
<text x="699.18" y="229.90">A</text>
<text x="702.59" y="235.20">G</text>
</g>
<g font-size="4.0" fill="#707070" text-anchor="middle">
<text x="492.70" y="127.30">890</text>
<text x="540.30" y="170.40">910</text>
<text x="511.00" y="188.10">870</text>
<text x="548.30" y="246.10">850</text>
<text x="464.20" y="268.90">830</text>
<text x="489.70" y="298.00">810</text>
<text x="572.70" y="165.40">950</text>
<text x="626.00" y="213.00">970</text>
<text x="645.10" y="220.50">984</text>
<text x="637.00" y="266.00">730</text>
<text x="570.30" y="335.70">750</text>
<text x="521.20" y="343.60">770</text>
<text x="581.40" y="231.10">930</text>
<text x="571.00" y="271.30">790</text>
</g>
<line x1="497" y1="126" x2="502" y2="126" stroke="#777" stroke-width="0.5"/>
<line x1="536" y1="171" x2="538" y2="168" stroke="#777" stroke-width="0.5"/>
<line x1="514.5" y1="186.5" x2="517" y2="184.8" stroke="#777" stroke-width="0.5"/>
<line x1="548.3" y1="246.8" x2="548.3" y2="251" stroke="#777" stroke-width="0.5"/>
<line x1="467" y1="270.5" x2="470" y2="274" stroke="#777" stroke-width="0.5"/>
<line x1="489.7" y1="290.5" x2="489.7" y2="294" stroke="#777" stroke-width="0.5"/>
<line x1="577.5" y1="164.1" x2="581.6" y2="164.1" stroke="#777" stroke-width="0.5"/>
<line x1="617" y1="211.7" x2="622" y2="211.7" stroke="#777" stroke-width="0.5"/>
<line x1="645.1" y1="221.3" x2="645.1" y2="226" stroke="#777" stroke-width="0.5"/>
<line x1="637" y1="258" x2="637" y2="262" stroke="#777" stroke-width="0.5"/>
<line x1="565.5" y1="329.5" x2="567.8" y2="332.3" stroke="#777" stroke-width="0.5"/>
<line x1="524.5" y1="342.3" x2="528.5" y2="342.3" stroke="#777" stroke-width="0.5"/>
<line x1="581.4" y1="232" x2="581.4" y2="236.6" stroke="#777" stroke-width="0.5"/>
<line x1="572" y1="261.8" x2="571" y2="266" stroke="#777" stroke-width="0.5"/>
<line x1="647.8" y1="229.8" x2="660" y2="227.6" stroke="#111" stroke-width="2" stroke-dasharray="2 2.6"/>
<line x1="639.5" y1="252.8" x2="651.5" y2="253.2" stroke="#111" stroke-width="2" stroke-dasharray="2 2.6"/>
<path d="M546.4,277.8 C553,274.5 558,271.5 562,271.3 C567,271 570.5,273 570.2,276.5 C570,278 569,279 568.5,280 L544.1,316.4" fill="none" stroke="#1a1a1a" stroke-width="1.3" stroke-linecap="round"/>
<circle cx="504.60" cy="400.70" r="2.4" fill="#eee436"/>
<circle cx="520.90" cy="394.80" r="2.4" fill="#eee436"/>
<circle cx="523.70" cy="413.00" r="2.4" fill="#eee436"/>
<circle cx="527.70" cy="422.50" r="2.4" fill="#eee436"/>
<circle cx="524.30" cy="425.20" r="2.4" fill="#eee436"/>
<circle cx="548.90" cy="457.70" r="2.4" fill="#eee436"/>
<circle cx="593.90" cy="497.70" r="2.4" fill="#eee436"/>
<circle cx="615.10" cy="453.80" r="2.4" fill="#eee436"/>
<circle cx="634.50" cy="515.50" r="2.4" fill="#eee436"/>
<circle cx="493.60" cy="436.80" r="2.4" fill="#eee436"/>
<circle cx="490.90" cy="548.50" r="2.4" fill="#eee436"/>
<circle cx="487.90" cy="534.50" r="2.4" fill="#eee436"/>
<circle cx="484.80" cy="529.70" r="2.4" fill="#eee436"/>
<circle cx="478.80" cy="531.50" r="2.4" fill="#eee436"/>
<circle cx="478.80" cy="536.40" r="2.4" fill="#eee436"/>
<circle cx="478.80" cy="541.20" r="2.4" fill="#eee436"/>
<circle cx="433.30" cy="566.00" r="2.4" fill="#eee436"/>
<circle cx="434.00" cy="571.00" r="2.4" fill="#eee436"/>
<circle cx="563.80" cy="540.50" r="2.4" fill="#eee436"/>
<circle cx="557.60" cy="582.90" r="2.4" fill="#eee436"/>
<circle cx="568.80" cy="589.70" r="2.4" fill="#eee436"/>
<circle cx="585.50" cy="569.50" r="2.4" fill="#eee436"/>
<circle cx="585.50" cy="564.70" r="2.4" fill="#eee436"/>
<circle cx="589.70" cy="561.10" r="2.4" fill="#eee436"/>
<line x1="527.70" y1="422.50" x2="524.30" y2="425.20" stroke="#eee436" stroke-width="4.80"/>
<line x1="487.90" y1="534.50" x2="484.80" y2="529.70" stroke="#eee436" stroke-width="4.80"/>
<line x1="484.80" y1="529.70" x2="478.80" y2="531.50" stroke="#eee436" stroke-width="4.80"/>
<line x1="478.80" y1="531.50" x2="478.80" y2="536.40" stroke="#eee436" stroke-width="4.80"/>
<line x1="478.80" y1="536.40" x2="478.80" y2="541.20" stroke="#eee436" stroke-width="4.80"/>
<line x1="433.30" y1="566.00" x2="434.00" y2="571.00" stroke="#eee436" stroke-width="4.80"/>
<line x1="585.50" y1="569.50" x2="585.50" y2="564.70" stroke="#eee436" stroke-width="4.80"/>
<line x1="585.50" y1="564.70" x2="589.70" y2="561.10" stroke="#eee436" stroke-width="4.80"/>
<g font-size="6.3" fill="#303030" stroke="#303030" stroke-width="0.14" text-anchor="middle" transform="scale(0.85,1)">
<text x="593.65" y="402.90">C</text>
<text x="598.35" y="398.10">C</text>
<text x="605.65" y="397.00">C</text>
<text x="612.82" y="397.00">A</text>
<text x="619.29" y="399.50">G</text>
<text x="621.65" y="404.90">C</text>
<text x="619.29" y="410.40">C</text>
<text x="616.12" y="415.20">G</text>
<text x="621.65" y="417.20">C</text>
<text x="616.82" y="421.30">C</text>
<text x="620.82" y="424.70">G</text>
<text x="616.82" y="427.40">C</text>
<text x="616.82" y="432.20">U</text>
<text x="623.29" y="434.90">G</text>
<text x="626.47" y="439.70">A</text>
<text x="628.12" y="446.20">A</text>
<text x="625.65" y="451.20">U</text>
<text x="628.12" y="455.70">A</text>
<text x="633.76" y="455.20">C</text>
<text x="639.29" y="456.50">C</text>
<text x="645.76" y="459.90">G</text>
<text x="647.41" y="464.00">C</text>
<text x="648.12" y="468.80">A</text>
<text x="647.41" y="473.60">G</text>
<text x="644.94" y="480.40">C</text>
<text x="650.59" y="481.10">U</text>
<text x="649.76" y="486.50">A</text>
<text x="652.94" y="491.00">G</text>
<text x="656.47" y="495.60">G</text>
<text x="661.76" y="495.30">A</text>
<text x="664.94" y="499.30">A</text>
<text x="661.06" y="503.50">U</text>
<text x="664.47" y="508.40">A</text>
<text x="668.24" y="512.90">A</text>
<text x="671.41" y="515.60">U</text>
<text x="676.24" y="517.00">G</text>
<text x="681.06" y="518.40">G</text>
<text x="685.88" y="519.00">A</text>
<text x="690.71" y="519.00">A</text>
<text x="695.53" y="518.40">U</text>
<text x="699.53" y="516.30">A</text>
<text x="703.53" y="515.60">G</text>
<text x="703.53" y="510.20">G</text>
<text x="699.53" y="506.10">A</text>
<text x="703.53" y="502.70">C</text>
<text x="698.71" y="499.90">U</text>
<text x="698.71" y="495.20">C</text>
<text x="703.53" y="493.20">C</text>
<text x="703.53" y="487.70">G</text>
<text x="702.35" y="481.40">G</text>
<text x="702.35" y="476.70">U</text>
<text x="702.35" y="470.30">U</text>
<text x="702.35" y="465.00">C</text>
<text x="702.35" y="459.20">U</text>
<text x="696.82" y="456.50">A</text>
<text x="693.06" y="452.30">U</text>
<text x="691.76" y="447.00">U</text>
<text x="691.76" y="441.70">U</text>
<text x="694.24" y="436.90">U</text>
<text x="698.71" y="432.70">G</text>
<text x="704.24" y="430.00">U</text>
<text x="710.47" y="428.90">G</text>
<text x="716.71" y="430.00">G</text>
<text x="721.76" y="432.70">G</text>
<text x="726.12" y="436.90">U</text>
<text x="728.59" y="441.70">U</text>
<text x="728.59" y="447.00">U</text>
<text x="727.41" y="451.70">C</text>
<text x="723.65" y="456.00">U</text>
<text x="718.59" y="459.20">G</text>
<text x="718.59" y="465.00">G</text>
<text x="718.00" y="470.30">A</text>
<text x="718.00" y="476.70">A</text>
<text x="718.00" y="481.40">C</text>
<text x="718.82" y="486.80">C</text>
<text x="722.82" y="489.00">C</text>
<text x="718.82" y="492.40">G</text>
<text x="722.82" y="495.20">G</text>
<text x="722.82" y="499.20">G</text>
<text x="718.82" y="502.70">G</text>
<text x="718.94" y="510.50">C</text>
<text x="718.82" y="515.80">C</text>
<text x="722.47" y="518.00">A</text>
<text x="727.06" y="519.10">U</text>
<text x="731.88" y="519.40">G</text>
<text x="736.24" y="519.20">A</text>
<text x="740.35" y="518.80">U</text>
<text x="746.47" y="517.70">U</text>
<text x="751.53" y="511.80">G</text>
<text x="758.94" y="508.10">A</text>
<text x="593.65" y="407.70">G</text>
<text x="597.65" y="411.10">C</text>
<text x="600.82" y="415.80">C</text>
<text x="601.29" y="421.30">G</text>
<text x="601.29" y="426.80">G</text>
<text x="601.29" y="432.20">A</text>
<text x="575.18" y="440.40">A</text>
<text x="580.71" y="439.00">A</text>
<text x="587.18" y="439.70">G</text>
<text x="593.29" y="439.00">C</text>
<text x="571.18" y="445.00">A</text>
<text x="571.18" y="450.20">C</text>
<text x="574.35" y="455.20">U</text>
<text x="580.00" y="457.20">U</text>
<text x="586.35" y="456.50">G</text>
<text x="591.18" y="453.10">U</text>
<text x="597.65" y="451.70">G</text>
<text x="601.65" y="455.20">A</text>
<text x="606.47" y="457.20">G</text>
<text x="612.00" y="457.90">A</text>
<text x="616.12" y="462.70">U</text>
<text x="611.29" y="466.10">U</text>
<text x="610.47" y="470.80">A</text>
<text x="611.29" y="474.90">A</text>
<text x="612.82" y="479.00">A</text>
<text x="616.12" y="483.10">A</text>
<text x="620.12" y="484.50">A</text>
<text x="624.12" y="485.20">A</text>
<text x="632.12" y="486.50">G</text>
<text x="632.12" y="491.30">U</text>
<text x="636.12" y="493.40">U</text>
<text x="638.59" y="497.20">U</text>
<text x="642.35" y="502.40">C</text>
<text x="647.29" y="510.20">A</text>
<text x="650.59" y="514.90">U</text>
<text x="654.00" y="519.00">U</text>
<text x="657.76" y="523.60">U</text>
<text x="656.24" y="529.00">G</text>
<text x="650.94" y="531.50">C</text>
<text x="644.94" y="532.80">C</text>
<text x="639.65" y="534.10">A</text>
<text x="632.82" y="536.00">G</text>
<text x="626.35" y="537.20">G</text>
<text x="620.00" y="538.40">C</text>
<text x="614.24" y="539.60">C</text>
<text x="604.94" y="542.00">C</text>
<text x="599.29" y="543.90">G</text>
<text x="593.53" y="545.10">G</text>
<text x="587.88" y="546.30">G</text>
<text x="582.00" y="547.60">G</text>
<text x="577.53" y="550.70">C</text>
<text x="574.71" y="547.00">U</text>
<text x="574.00" y="542.20">C</text>
<text x="574.00" y="536.70">C</text>
<text x="570.35" y="531.90">A</text>
<text x="563.29" y="533.70">U</text>
<text x="563.29" y="538.60">G</text>
<text x="563.29" y="543.40">G</text>
<text x="561.88" y="548.90">C</text>
<text x="559.06" y="553.10">C</text>
<text x="553.29" y="554.30">U</text>
<text x="547.65" y="555.50">G</text>
<text x="541.88" y="556.70">U</text>
<text x="536.24" y="558.60">G</text>
<text x="529.76" y="559.80">G</text>
<text x="523.29" y="561.00">G</text>
<text x="516.94" y="561.00">U</text>
<text x="511.18" y="563.40">C</text>
<text x="509.76" y="568.20">G</text>
<text x="510.59" y="573.20">A</text>
<text x="515.53" y="577.40">U</text>
<text x="521.88" y="576.70">U</text>
<text x="527.65" y="574.30">C</text>
<text x="533.29" y="573.20">C</text>
<text x="539.76" y="571.30">C</text>
<text x="545.41" y="570.10">G</text>
<text x="551.88" y="568.90">U</text>
<text x="557.53" y="567.70">A</text>
<text x="564.71" y="566.40">G</text>
<text x="570.35" y="567.00">G</text>
<text x="575.41" y="563.40">C</text>
<text x="581.06" y="564.00">C</text>
<text x="585.65" y="561.20">C</text>
<text x="591.41" y="559.00">C</text>
<text x="597.18" y="557.80">C</text>
<text x="603.53" y="556.60">C</text>
<text x="610.00" y="555.40">G</text>
<text x="615.65" y="557.20">C</text>
<text x="619.29" y="553.00">G</text>
<text x="624.94" y="551.70">G</text>
<text x="630.71" y="549.90">C</text>
<text x="634.24" y="553.00">C</text>
<text x="639.18" y="552.40">C</text>
<text x="641.41" y="547.50">U</text>
<text x="644.94" y="549.30">C</text>
<text x="649.18" y="546.90">C</text>
<text x="654.94" y="545.10">G</text>
<text x="663.29" y="542.70">U</text>
<text x="671.65" y="543.90">C</text>
<text x="678.82" y="544.50">C</text>
<text x="683.06" y="548.10">C</text>
<text x="680.24" y="553.00">A</text>
<text x="675.88" y="554.80">G</text>
<text x="675.29" y="559.60">G</text>
<text x="670.24" y="561.40">C</text>
<text x="669.53" y="565.70">C</text>
<text x="666.71" y="570.50">C</text>
<text x="663.06" y="574.80">U</text>
<text x="659.53" y="579.60">G</text>
<text x="656.00" y="585.10">U</text>
<text x="652.35" y="589.30">C</text>
<text x="649.18" y="594.00">C</text>
<text x="646.00" y="598.70">G</text>
<text x="641.76" y="604.20">C</text>
<text x="638.12" y="608.40">C</text>
<text x="636.00" y="612.70">A</text>
<text x="631.76" y="613.90">C</text>
<text x="628.12" y="616.90">C</text>
<text x="629.65" y="621.20">G</text>
<text x="624.59" y="623.00">A</text>
<text x="624.59" y="628.40">G</text>
<text x="621.06" y="632.70">C</text>
<text x="617.41" y="637.50">G</text>
<text x="614.59" y="641.70">G</text>
<text x="611.06" y="646.60">A</text>
<text x="612.47" y="651.40">G</text>
<text x="618.24" y="653.90">C</text>
<text x="624.59" y="653.20">G</text>
<text x="628.12" y="648.40">C</text>
<text x="631.06" y="644.20">C</text>
<text x="633.88" y="639.90">C</text>
<text x="637.41" y="635.70">C</text>
<text x="643.18" y="628.40">C</text>
<text x="649.53" y="619.30">U</text>
<text x="653.18" y="615.10">G</text>
<text x="656.71" y="610.80">G</text>
<text x="660.24" y="606.60">C</text>
<text x="663.76" y="601.70">G</text>
<text x="666.71" y="597.50">G</text>
<text x="669.18" y="591.90">U</text>
<text x="672.35" y="586.90">C</text>
<text x="675.88" y="582.70">G</text>
<text x="679.53" y="578.40">G</text>
<text x="683.06" y="574.20">G</text>
<text x="688.82" y="571.70">U</text>
<text x="688.82" y="566.90">C</text>
<text x="693.76" y="563.30">C</text>
<text x="693.76" y="559.60">G</text>
<text x="696.59" y="554.80">G</text>
<text x="702.35" y="548.60">G</text>
<text x="709.29" y="542.50">C</text>
<text x="716.94" y="538.10">U</text>
<text x="725.29" y="534.60">C</text>
<text x="734.71" y="532.50">U</text>
<text x="744.00" y="532.00">A</text>
<text x="750.24" y="530.40">G</text>
</g>
<g font-size="4.0" fill="#707070" text-anchor="middle">
<text x="492.30" y="402.00">890</text>
<text x="561.90" y="458.30">870</text>
<text x="510.00" y="463.10">830</text>
<text x="548.20" y="521.50">850</text>
<text x="598.60" y="418.50">910</text>
<text x="624.00" y="509.90">930</text>
<text x="645.10" y="496.10">990</text>
<text x="584.50" y="510.60">890</text>
<text x="468.50" y="543.10">790</text>
<text x="485.50" y="576.50">770</text>
<text x="581.20" y="592.10">710</text>
<text x="568.50" y="549.60">750</text>
<text x="520.00" y="622.10">730</text>
<text x="637.70" y="541.10">594</text>
</g>
<line x1="495.7" y1="400.7" x2="501.8" y2="400.7" stroke="#777" stroke-width="0.5"/>
<line x1="553" y1="457" x2="557.8" y2="457" stroke="#777" stroke-width="0.5"/>
<line x1="513.4" y1="461.8" x2="518" y2="459" stroke="#777" stroke-width="0.5"/>
<line x1="548.2" y1="523" x2="548.2" y2="527" stroke="#777" stroke-width="0.5"/>
<line x1="598.6" y1="420.4" x2="598.6" y2="424" stroke="#777" stroke-width="0.5"/>
<line x1="615.5" y1="508.6" x2="619.7" y2="508.6" stroke="#777" stroke-width="0.5"/>
<line x1="645.1" y1="497" x2="645.1" y2="501.7" stroke="#777" stroke-width="0.5"/>
<line x1="588.4" y1="511.3" x2="595" y2="513.4" stroke="#777" stroke-width="0.5"/>
<line x1="471.5" y1="545.5" x2="475.2" y2="548.5" stroke="#777" stroke-width="0.5"/>
<line x1="485.5" y1="568.5" x2="485.5" y2="572" stroke="#777" stroke-width="0.5"/>
<line x1="572.7" y1="590.8" x2="577" y2="590.8" stroke="#777" stroke-width="0.5"/>
<line x1="572" y1="547" x2="576" y2="545" stroke="#777" stroke-width="0.5"/>
<line x1="524.2" y1="620.8" x2="529" y2="620.8" stroke="#777" stroke-width="0.5"/>
<line x1="637.7" y1="533.5" x2="637.7" y2="538" stroke="#777" stroke-width="0.5"/>
<line x1="648.3" y1="504.8" x2="660" y2="502.7" stroke="#111" stroke-width="2" stroke-dasharray="2 2.6"/>
<line x1="640.9" y1="528.2" x2="651.5" y2="528.2" stroke="#111" stroke-width="2" stroke-dasharray="2 2.6"/>
<path d="M547.3,553.4 C553,551 557.5,549 561.5,548.8 C566,548.6 569,550.5 568.6,553.5 C568.4,555 567.6,556 567,557 L546,590.4" fill="none" stroke="#1a1a1a" stroke-width="1.3" stroke-linecap="round"/>
<text x="2.30" y="14.10" font-size="16" text-anchor="start" fill="#000" font-weight="bold">A</text>
<text x="3.00" y="159.00" font-size="16" text-anchor="start" fill="#000" font-weight="bold">B</text>
<text x="408.50" y="159.30" font-size="16" text-anchor="start" fill="#000" font-weight="bold">C</text>
<text x="3.00" y="680.40" font-size="16" text-anchor="start" fill="#000" font-weight="bold">D</text>
<text x="333.50" y="680.40" font-size="16" text-anchor="start" fill="#000" font-weight="bold">E</text>
<text x="327.70" y="20.50" font-size="21" text-anchor="middle" fill="#111" textLength="38.2" lengthAdjust="spacingAndGlyphs">18S</text>
<line x1="11.70" y1="52.20" x2="643.50" y2="52.20" stroke="#111" stroke-width="1.3"/>
<line x1="11.70" y1="48.60" x2="11.70" y2="56.00" stroke="#111" stroke-width="1.3"/>
<line x1="21.30" y1="48.60" x2="21.30" y2="56.00" stroke="#111" stroke-width="1.3"/>
<line x1="235.75" y1="48.60" x2="235.75" y2="56.00" stroke="#111" stroke-width="1.3"/>
<line x1="243.25" y1="48.60" x2="243.25" y2="56.00" stroke="#111" stroke-width="1.3"/>
<line x1="411.70" y1="48.60" x2="411.70" y2="56.00" stroke="#111" stroke-width="1.3"/>
<line x1="430.50" y1="48.60" x2="430.50" y2="56.00" stroke="#111" stroke-width="1.3"/>
<line x1="580.00" y1="48.60" x2="580.00" y2="56.00" stroke="#111" stroke-width="1.3"/>
<line x1="585.75" y1="48.60" x2="585.75" y2="56.00" stroke="#111" stroke-width="1.3"/>
<line x1="643.50" y1="48.60" x2="643.50" y2="56.00" stroke="#111" stroke-width="1.3"/>
<text x="16.50" y="35.40" font-size="11" text-anchor="middle" fill="#111">A</text>
<line x1="16.50" y1="37.50" x2="16.50" y2="47.20" stroke="#333" stroke-width="0.8"/>
<text x="239.50" y="35.40" font-size="11" text-anchor="middle" fill="#111">A</text>
<line x1="239.50" y1="37.50" x2="239.50" y2="47.20" stroke="#333" stroke-width="0.8"/>
<text x="421.30" y="35.40" font-size="11" text-anchor="middle" fill="#111">A</text>
<line x1="421.30" y1="37.50" x2="421.30" y2="47.20" stroke="#333" stroke-width="0.8"/>
<text x="583.25" y="35.40" font-size="11" text-anchor="middle" fill="#111">A</text>
<line x1="583.25" y1="37.50" x2="583.25" y2="47.20" stroke="#333" stroke-width="0.8"/>
<text x="130.00" y="47.30" font-size="12" text-anchor="middle" fill="#111">5'</text>
<text x="327.90" y="47.30" font-size="12" text-anchor="middle" fill="#111" textLength="36.8" lengthAdjust="spacingAndGlyphs">Central</text>
<text x="505.80" y="47.30" font-size="12" text-anchor="middle" fill="#111" textLength="21" lengthAdjust="spacingAndGlyphs">3' M</text>
<text x="614.50" y="47.30" font-size="12" text-anchor="middle" fill="#111" textLength="21.2" lengthAdjust="spacingAndGlyphs">3' m</text>
<rect x="48.30" y="61.80" width="10.20" height="3.00" fill="#3a9c7c" stroke="none" stroke-width="0"/>
<rect x="65.20" y="61.80" width="68.80" height="3.00" fill="#3a9c7c" stroke="none" stroke-width="0"/>
<rect x="142.70" y="61.80" width="2.80" height="3.00" fill="#3a9c7c" stroke="none" stroke-width="0"/>
<rect x="248.00" y="61.80" width="82.80" height="3.00" fill="#3a9c7c" stroke="none" stroke-width="0"/>
<rect x="391.80" y="61.80" width="6.90" height="3.00" fill="#3a9c7c" stroke="none" stroke-width="0"/>
<rect x="407.30" y="61.80" width="2.70" height="3.00" fill="#3a9c7c" stroke="none" stroke-width="0"/>
<rect x="487.60" y="61.80" width="16.90" height="3.00" fill="#3a9c7c" stroke="none" stroke-width="0"/>
<rect x="537.30" y="61.80" width="2.70" height="3.00" fill="#3a9c7c" stroke="none" stroke-width="0"/>
<rect x="600.80" y="61.80" width="10.00" height="3.00" fill="#3a9c7c" stroke="none" stroke-width="0"/>
<line x1="11.70" y1="72.30" x2="643.50" y2="72.30" stroke="#222" stroke-width="1.1"/>
<line x1="11.70" y1="91.20" x2="643.50" y2="91.20" stroke="#222" stroke-width="1.1"/>
<line x1="11.70" y1="91.20" x2="11.70" y2="98.60" stroke="#222" stroke-width="1.3"/>
<line x1="643.00" y1="91.20" x2="643.00" y2="98.60" stroke="#222" stroke-width="1.3"/>
<line x1="134.00" y1="72.30" x2="134.00" y2="91.20" stroke="#888" stroke-width="0.8"/>
<line x1="136.80" y1="72.30" x2="136.80" y2="91.20" stroke="#888" stroke-width="0.8"/>
<line x1="133.30" y1="72.30" x2="133.30" y2="91.20" stroke="#888" stroke-width="0.8"/>
<line x1="212.70" y1="72.30" x2="212.70" y2="91.20" stroke="#888" stroke-width="0.8"/>
<line x1="213.60" y1="72.30" x2="213.60" y2="91.20" stroke="#888" stroke-width="0.8"/>
<line x1="299.00" y1="72.30" x2="299.00" y2="91.20" stroke="#888" stroke-width="0.8"/>
<line x1="359.00" y1="72.30" x2="359.00" y2="91.20" stroke="#888" stroke-width="0.8"/>
<line x1="362.70" y1="72.30" x2="362.70" y2="91.20" stroke="#888" stroke-width="0.8"/>
<line x1="404.00" y1="72.30" x2="404.00" y2="91.20" stroke="#888" stroke-width="0.8"/>
<line x1="471.00" y1="72.30" x2="471.00" y2="91.20" stroke="#888" stroke-width="0.8"/>
<line x1="491.00" y1="72.30" x2="491.00" y2="91.20" stroke="#888" stroke-width="0.8"/>
<line x1="552.70" y1="72.30" x2="552.70" y2="91.20" stroke="#888" stroke-width="0.8"/>
<line x1="557.00" y1="72.30" x2="557.00" y2="91.20" stroke="#888" stroke-width="0.8"/>
<line x1="552.50" y1="72.30" x2="552.50" y2="91.20" stroke="#888" stroke-width="0.8"/>
<line x1="555.00" y1="72.30" x2="555.00" y2="91.20" stroke="#888" stroke-width="0.8"/>
<line x1="557.50" y1="72.30" x2="557.50" y2="91.20" stroke="#888" stroke-width="0.8"/>
<line x1="560.00" y1="72.30" x2="560.00" y2="91.20" stroke="#888" stroke-width="0.8"/>
<line x1="575.00" y1="72.30" x2="575.00" y2="91.20" stroke="#888" stroke-width="0.8"/>
<line x1="611.70" y1="72.30" x2="611.70" y2="91.20" stroke="#888" stroke-width="0.8"/>
<line x1="623.30" y1="72.30" x2="623.30" y2="91.20" stroke="#888" stroke-width="0.8"/>
<line x1="29.50" y1="72.30" x2="29.50" y2="91.20" stroke="#111" stroke-width="1.0"/>
<line x1="55.50" y1="72.30" x2="55.50" y2="91.20" stroke="#111" stroke-width="1.0"/>
<line x1="76.00" y1="72.30" x2="76.00" y2="91.20" stroke="#111" stroke-width="1.5"/>
<line x1="83.00" y1="72.30" x2="83.00" y2="91.20" stroke="#111" stroke-width="1.5"/>
<line x1="84.30" y1="72.30" x2="84.30" y2="91.20" stroke="#111" stroke-width="1.5"/>
<line x1="101.40" y1="72.30" x2="101.40" y2="91.20" stroke="#111" stroke-width="1.5"/>
<line x1="104.80" y1="72.30" x2="104.80" y2="91.20" stroke="#111" stroke-width="1.5"/>
<line x1="107.50" y1="72.30" x2="107.50" y2="91.20" stroke="#111" stroke-width="1.5"/>
<line x1="110.20" y1="72.30" x2="110.20" y2="91.20" stroke="#111" stroke-width="1.5"/>
<line x1="116.40" y1="72.30" x2="116.40" y2="91.20" stroke="#111" stroke-width="1.5"/>
<line x1="117.80" y1="72.30" x2="117.80" y2="91.20" stroke="#111" stroke-width="1.5"/>
<line x1="137.30" y1="72.30" x2="137.30" y2="91.20" stroke="#111" stroke-width="1.0"/>
<line x1="159.00" y1="72.30" x2="159.00" y2="91.20" stroke="#111" stroke-width="1.0"/>
<line x1="191.50" y1="72.30" x2="191.50" y2="91.20" stroke="#111" stroke-width="1.0"/>
<line x1="199.00" y1="72.30" x2="199.00" y2="91.20" stroke="#111" stroke-width="1.0"/>
<line x1="238.50" y1="72.30" x2="238.50" y2="91.20" stroke="#111" stroke-width="1.0"/>
<line x1="253.00" y1="72.30" x2="253.00" y2="91.20" stroke="#111" stroke-width="1.0"/>
<line x1="269.00" y1="72.30" x2="269.00" y2="91.20" stroke="#111" stroke-width="1.0"/>
<line x1="284.00" y1="72.30" x2="284.00" y2="91.20" stroke="#111" stroke-width="1.0"/>
<line x1="303.00" y1="72.30" x2="303.00" y2="91.20" stroke="#111" stroke-width="1.0"/>
<line x1="323.00" y1="72.30" x2="323.00" y2="91.20" stroke="#111" stroke-width="1.0"/>
<line x1="355.50" y1="72.30" x2="355.50" y2="91.20" stroke="#111" stroke-width="1.0"/>
<line x1="411.50" y1="72.30" x2="411.50" y2="91.20" stroke="#111" stroke-width="1.0"/>
<line x1="444.00" y1="72.30" x2="444.00" y2="91.20" stroke="#111" stroke-width="1.0"/>
<line x1="443.30" y1="72.30" x2="443.30" y2="91.20" stroke="#111" stroke-width="1.0"/>
<line x1="457.60" y1="72.30" x2="457.60" y2="91.20" stroke="#111" stroke-width="1.0"/>
<line x1="479.00" y1="72.30" x2="479.00" y2="91.20" stroke="#111" stroke-width="1.0"/>
<line x1="500.50" y1="72.30" x2="500.50" y2="91.20" stroke="#111" stroke-width="1.0"/>
<line x1="514.50" y1="72.30" x2="514.50" y2="91.20" stroke="#111" stroke-width="1.0"/>
<line x1="554.50" y1="72.30" x2="554.50" y2="91.20" stroke="#111" stroke-width="1.0"/>
<line x1="563.30" y1="72.30" x2="563.30" y2="91.20" stroke="#111" stroke-width="1.0"/>
<line x1="564.70" y1="72.30" x2="564.70" y2="91.20" stroke="#111" stroke-width="1.0"/>
<line x1="614.00" y1="72.30" x2="614.00" y2="91.20" stroke="#111" stroke-width="1.0"/>
<line x1="620.80" y1="72.30" x2="620.80" y2="91.20" stroke="#111" stroke-width="1.0"/>
<line x1="150.00" y1="72.30" x2="150.00" y2="91.20" stroke="#111" stroke-width="2.0"/>
<line x1="595.00" y1="72.30" x2="595.00" y2="91.20" stroke="#333" stroke-width="1.8"/>
<rect x="57.50" y="75.00" width="6.80" height="12.00" fill="#e42026" stroke="#fff" stroke-width="0.8"/>
<rect x="65.90" y="75.00" width="65.10" height="12.00" fill="#e42026" stroke="#fff" stroke-width="0.8"/>
<rect x="230.00" y="75.00" width="5.00" height="12.00" fill="#e42026" stroke="#fff" stroke-width="0.8"/>
<rect x="245.00" y="75.00" width="90.80" height="12.00" fill="#e42026" stroke="#fff" stroke-width="0.8"/>
<rect x="390.00" y="75.00" width="10.00" height="12.00" fill="#e42026" stroke="#fff" stroke-width="0.8"/>
<rect x="600.80" y="75.00" width="10.00" height="12.00" fill="#e42026" stroke="#fff" stroke-width="0.8"/>
<text x="98.60" y="85.30" font-size="12" text-anchor="middle" fill="#fff" textLength="31.3" lengthAdjust="spacingAndGlyphs">ES3S</text>
<text x="290.30" y="85.30" font-size="12" text-anchor="middle" fill="#fff" textLength="32.7" lengthAdjust="spacingAndGlyphs">ES6S</text>
<text x="12.00" y="105.50" font-size="7.5" text-anchor="middle" fill="#222">0</text>
<text x="643.00" y="105.50" font-size="7.5" text-anchor="middle" fill="#222" textLength="16" lengthAdjust="spacingAndGlyphs">1939</text>
<text x="45.50" y="280.50" font-size="13" text-anchor="middle" fill="#1a1a1a" textLength="80.3" lengthAdjust="spacingAndGlyphs">Maternal-type</text>
<text x="46.60" y="296.40" font-size="13" text-anchor="middle" fill="#1a1a1a" textLength="59.8" lengthAdjust="spacingAndGlyphs">18S ES3S</text>
<text x="43.10" y="552.40" font-size="13" text-anchor="middle" fill="#1a1a1a" textLength="77.3" lengthAdjust="spacingAndGlyphs">Somatic-type</text>
<text x="45.00" y="568.50" font-size="13" text-anchor="middle" fill="#1a1a1a" textLength="60" lengthAdjust="spacingAndGlyphs">18S ES3S</text>
<text x="389.00" y="296.80" font-size="13" text-anchor="middle" fill="#1a1a1a" textLength="33" lengthAdjust="spacingAndGlyphs">ES6S</text>
<text x="389.20" y="569.60" font-size="13" text-anchor="middle" fill="#1a1a1a" textLength="32.5" lengthAdjust="spacingAndGlyphs">ES6S</text>
<rect x="0.50" y="712.60" width="308.70" height="41.90" fill="#d9d9d9" stroke="none" stroke-width="0"/>
<line x1="44.70" y1="767.40" x2="230.50" y2="767.40" stroke="#e0e0e0" stroke-width="1"/>
<line x1="44.70" y1="808.00" x2="230.50" y2="808.00" stroke="#e0e0e0" stroke-width="1"/>
<line x1="44.70" y1="781.20" x2="309.20" y2="781.20" stroke="#8a8a8a" stroke-width="1"/>
<line x1="44.70" y1="821.60" x2="309.20" y2="821.60" stroke="#8a8a8a" stroke-width="1"/>
<line x1="110.50" y1="727.00" x2="309.20" y2="727.00" stroke="#444" stroke-width="1"/>
<line x1="44.70" y1="712.60" x2="44.70" y2="834.20" stroke="#444" stroke-width="1"/>
<line x1="110.50" y1="712.60" x2="110.50" y2="834.20" stroke="#333" stroke-width="1"/>
<line x1="170.20" y1="727.00" x2="170.20" y2="834.20" stroke="#444" stroke-width="1"/>
<line x1="230.50" y1="727.00" x2="230.50" y2="834.20" stroke="#444" stroke-width="1"/>
<line x1="266.20" y1="727.00" x2="266.20" y2="834.20" stroke="#444" stroke-width="1"/>
<line x1="0.50" y1="712.60" x2="0.50" y2="834.20" stroke="#222" stroke-width="1.2"/>
<line x1="309.20" y1="712.60" x2="309.20" y2="834.20" stroke="#222" stroke-width="1.4"/>
<line x1="0.50" y1="712.60" x2="309.20" y2="712.60" stroke="#222" stroke-width="1.3"/>
<line x1="0.50" y1="754.50" x2="309.20" y2="754.50" stroke="#111" stroke-width="1.3"/>
<line x1="0.50" y1="794.40" x2="309.20" y2="794.40" stroke="#111" stroke-width="1.3"/>
<line x1="0.50" y1="834.20" x2="309.20" y2="834.20" stroke="#111" stroke-width="1.4"/>
<text x="22.00" y="731.00" font-size="9.9" text-anchor="middle" fill="#111" textLength="39.3" lengthAdjust="spacingAndGlyphs">Expansion</text>
<text x="22.60" y="743.70" font-size="9.9" text-anchor="middle" fill="#111" textLength="34.7" lengthAdjust="spacingAndGlyphs">segment</text>
<text x="77.70" y="724.50" font-size="9.9" text-anchor="middle" fill="#111" textLength="52.2" lengthAdjust="spacingAndGlyphs">Ratio binding</text>
<text x="77.90" y="737.30" font-size="9.9" text-anchor="middle" fill="#111" textLength="50.2" lengthAdjust="spacingAndGlyphs">maternal ES/</text>
<text x="47.80" y="749.90" font-size="9.9" text-anchor="start" fill="#111" textLength="43.5" lengthAdjust="spacingAndGlyphs">somatic ES</text>
<text x="93.00" y="749.70" font-size="7.8" text-anchor="start" fill="#111" textLength="14.4" lengthAdjust="spacingAndGlyphs">(Log)</text>
<text x="210.30" y="723.70" font-size="9.9" text-anchor="middle" fill="#111" textLength="79.5" lengthAdjust="spacingAndGlyphs">Over representation</text>
<text x="140.00" y="739.00" font-size="9.9" text-anchor="middle" fill="#111" textLength="35.2" lengthAdjust="spacingAndGlyphs">maternal</text>
<text x="140.60" y="751.10" font-size="9.9" text-anchor="middle" fill="#111" textLength="24.2" lengthAdjust="spacingAndGlyphs">genes</text>
<text x="200.00" y="739.00" font-size="9.9" text-anchor="middle" fill="#111" textLength="54.0" lengthAdjust="spacingAndGlyphs">non-maternal</text>
<text x="199.70" y="751.10" font-size="9.9" text-anchor="middle" fill="#111" textLength="24.2" lengthAdjust="spacingAndGlyphs">genes</text>
<text x="247.90" y="739.00" font-size="9.9" text-anchor="middle" fill="#111" textLength="20.1" lengthAdjust="spacingAndGlyphs">Odds</text>
<text x="247.60" y="751.10" font-size="9.9" text-anchor="middle" fill="#111" textLength="18.2" lengthAdjust="spacingAndGlyphs">ratio</text>
<text x="287.30" y="745.10" font-size="9.9" text-anchor="middle" fill="#111" textLength="29.8" lengthAdjust="spacingAndGlyphs">p-value</text>
<text x="78.20" y="764.90" font-size="9.9" text-anchor="middle" fill="#111" textLength="13.3" lengthAdjust="spacingAndGlyphs">&lt; 0</text>
<text x="78.20" y="778.30" font-size="9.9" text-anchor="middle" fill="#111" textLength="13.3" lengthAdjust="spacingAndGlyphs">&gt; 0</text>
<text x="107.40" y="791.10" font-size="9.9" text-anchor="end" fill="#111" font-style="italic" textLength="17.7" lengthAdjust="spacingAndGlyphs">total</text>
<text x="141.50" y="764.90" font-size="9.9" text-anchor="middle" fill="#111" textLength="23.5" lengthAdjust="spacingAndGlyphs">1,909</text>
<text x="141.50" y="778.30" font-size="9.9" text-anchor="middle" fill="#111" textLength="23.5" lengthAdjust="spacingAndGlyphs">4,434</text>
<text x="141.50" y="791.10" font-size="9.9" text-anchor="middle" fill="#111" font-style="italic" textLength="23.5" lengthAdjust="spacingAndGlyphs">6,343</text>
<text x="200.70" y="764.90" font-size="9.9" text-anchor="middle" fill="#111" textLength="23.7" lengthAdjust="spacingAndGlyphs">1,001</text>
<text x="200.70" y="778.30" font-size="9.9" text-anchor="middle" fill="#111" textLength="23.7" lengthAdjust="spacingAndGlyphs">3,030</text>
<text x="200.70" y="791.10" font-size="9.9" text-anchor="middle" fill="#111" font-style="italic" textLength="23.7" lengthAdjust="spacingAndGlyphs">4,031</text>
<text x="249.20" y="764.90" font-size="9.9" text-anchor="middle" fill="#111" textLength="12.7" lengthAdjust="spacingAndGlyphs">1.2</text>
<text x="249.20" y="778.30" font-size="9.9" text-anchor="middle" fill="#111" textLength="12.7" lengthAdjust="spacingAndGlyphs">0.9</text>
<text x="288.20" y="771.20" font-size="9.9" text-anchor="middle" fill="#111" font-weight="bold" font-style="italic" textLength="34.0" lengthAdjust="spacingAndGlyphs">2.9E-09</text>
<text x="23.20" y="772.20" font-size="9.9" text-anchor="middle" fill="#111" textLength="36.9" lengthAdjust="spacingAndGlyphs">18S-ES3S</text>
<text x="22.40" y="784.70" font-size="9.9" text-anchor="middle" fill="#111" textLength="35.2" lengthAdjust="spacingAndGlyphs">range 3-I</text>
<text x="78.20" y="804.90" font-size="9.9" text-anchor="middle" fill="#111" textLength="13.3" lengthAdjust="spacingAndGlyphs">&lt; 0</text>
<text x="78.20" y="818.50" font-size="9.9" text-anchor="middle" fill="#111" textLength="13.3" lengthAdjust="spacingAndGlyphs">&gt; 0</text>
<text x="107.40" y="831.60" font-size="9.9" text-anchor="end" fill="#111" font-style="italic" textLength="17.7" lengthAdjust="spacingAndGlyphs">total</text>
<text x="141.50" y="804.90" font-size="9.9" text-anchor="middle" fill="#111" textLength="23.5" lengthAdjust="spacingAndGlyphs">3,328</text>
<text x="141.50" y="818.50" font-size="9.9" text-anchor="middle" fill="#111" textLength="23.5" lengthAdjust="spacingAndGlyphs">2,263</text>
<text x="141.50" y="831.60" font-size="9.9" text-anchor="middle" fill="#111" font-style="italic" textLength="23.5" lengthAdjust="spacingAndGlyphs">5,591</text>
<text x="200.70" y="804.90" font-size="9.9" text-anchor="middle" fill="#111" textLength="23.7" lengthAdjust="spacingAndGlyphs">2,357</text>
<text x="200.70" y="818.50" font-size="9.9" text-anchor="middle" fill="#111" textLength="23.7" lengthAdjust="spacingAndGlyphs">1,306</text>
<text x="200.70" y="831.60" font-size="9.9" text-anchor="middle" fill="#111" font-style="italic" textLength="23.7" lengthAdjust="spacingAndGlyphs">3,663</text>
<text x="249.20" y="804.90" font-size="9.9" text-anchor="middle" fill="#111" textLength="12.7" lengthAdjust="spacingAndGlyphs">0.9</text>
<text x="249.20" y="818.50" font-size="9.9" text-anchor="middle" fill="#111" textLength="12.7" lengthAdjust="spacingAndGlyphs">1.1</text>
<text x="288.20" y="811.70" font-size="9.9" text-anchor="middle" fill="#111" font-weight="bold" font-style="italic" textLength="34.0" lengthAdjust="spacingAndGlyphs">1.7E-06</text>
<text x="23.20" y="812.20" font-size="9.9" text-anchor="middle" fill="#111" textLength="36.9" lengthAdjust="spacingAndGlyphs">18S-ES6S</text>
<text x="22.40" y="824.90" font-size="9.9" text-anchor="middle" fill="#111" textLength="35.2" lengthAdjust="spacingAndGlyphs">range 6-I</text>
<path d="M411.40,693.20 C413.67,693.43 416.38,694.88 418.20,695.50 C420.02,696.12 420.48,696.67 422.30,696.90 C424.12,697.13 427.28,696.33 429.10,696.90 C430.92,697.47 432.28,698.37 433.20,700.30 C434.12,702.23 434.13,705.55 434.60,708.50 C435.07,711.45 435.10,715.38 436.00,718.00 C436.90,720.62 438.33,722.62 440.00,724.20 C441.67,725.78 443.88,726.62 446.00,727.50 C448.12,728.38 450.47,728.20 452.70,729.50 C454.93,730.80 457.85,732.92 459.40,735.30 C460.95,737.68 461.83,741.15 462.00,743.80 C462.17,746.45 461.55,748.90 460.40,751.20 C459.25,753.50 457.03,755.83 455.10,757.60 C453.17,759.37 450.38,760.30 448.80,761.80 C447.22,763.30 445.87,765.27 445.60,766.60 C445.33,767.93 446.50,768.83 447.20,769.80 C447.90,770.77 449.45,771.62 449.80,772.40 C450.15,773.18 449.82,774.10 449.30,774.50 C448.78,774.90 447.13,773.55 446.70,774.80 C446.27,776.05 447.07,779.83 446.70,782.00 C446.33,784.17 445.65,785.83 444.50,787.80 C443.35,789.77 441.05,790.93 439.80,793.80 C438.55,796.67 437.63,801.47 437.00,805.00 C436.37,808.53 436.67,812.00 436.00,815.00 C435.33,818.00 433.95,821.42 433.00,823.00 C432.05,824.58 431.28,823.88 430.30,824.50 C429.32,825.12 428.33,826.70 427.10,826.70 C425.87,826.70 424.92,824.62 422.90,824.50 C420.88,824.38 417.38,825.28 415.00,826.00 C412.62,826.72 410.82,827.28 408.60,828.80 C406.38,830.32 403.57,833.33 401.70,835.10 C399.83,836.87 398.55,838.97 397.40,839.40 C396.25,839.83 395.15,838.57 394.80,837.70 C394.45,836.83 394.53,835.75 395.30,834.20 C396.07,832.65 398.82,829.95 399.40,828.40 C399.98,826.85 399.28,824.90 398.80,824.90 C398.32,824.90 397.85,827.53 396.50,828.40 C395.15,829.27 392.63,830.50 390.70,830.10 C388.77,829.70 386.55,828.23 384.90,826.00 C383.25,823.77 381.28,819.60 380.80,816.70 C380.32,813.80 381.13,810.82 382.00,808.60 C382.87,806.38 385.90,804.57 386.00,803.40 C386.10,802.23 383.95,803.45 382.60,801.60 C381.25,799.75 379.17,796.75 377.90,792.30 C376.63,787.85 375.20,779.73 375.00,774.90 C374.80,770.07 375.98,766.18 376.70,763.30 C377.42,760.42 378.30,759.23 379.30,757.60 C380.30,755.97 381.55,754.42 382.70,753.50 C383.85,752.58 385.05,751.88 386.20,752.10 C387.35,752.32 388.58,755.02 389.60,754.80 C390.62,754.58 391.73,752.27 392.30,750.80 C392.87,749.33 393.45,747.15 393.00,746.00 C392.55,744.85 391.53,744.02 389.60,743.90 C387.67,743.78 384.37,745.52 381.40,745.30 C378.43,745.08 374.77,743.62 371.80,742.60 C368.83,741.58 365.53,740.80 363.60,739.20 C361.67,737.60 361.10,735.40 360.20,733.00 C359.30,730.60 358.42,726.73 358.20,724.80 C357.98,722.87 358.00,722.08 358.90,721.40 C359.80,720.72 361.90,721.15 363.60,720.70 C365.30,720.25 367.27,719.03 369.10,718.70 C370.93,718.37 372.90,718.93 374.60,718.70 C376.30,718.47 377.72,718.43 379.30,717.30 C380.88,716.17 382.17,714.05 384.10,711.90 C386.03,709.75 388.63,706.45 390.90,704.40 C393.17,702.35 395.42,701.32 397.70,699.60 C399.98,697.88 402.32,695.17 404.60,694.10 C406.88,693.03 409.13,692.97 411.40,693.20 Z" fill="#a4c7d7" stroke="#15202a" stroke-width="1.3" stroke-linejoin="round"/>
<path d="M370.50,718.90 C370.12,719.32 368.85,720.42 368.20,721.40 C367.55,722.38 366.68,723.67 366.60,724.80 C366.52,725.93 367.00,727.37 367.70,728.20 C368.40,729.03 370.28,729.53 370.80,729.80 " fill="none" stroke="#15202a" stroke-width="1.3"/>
<ellipse cx="406.00" cy="744.60" rx="3.2" ry="3.8" fill="#fff" stroke="#15202a" stroke-width="1.2"/>
<ellipse cx="428.40" cy="737.10" rx="2.0" ry="2.6" fill="#fff" stroke="#15202a" stroke-width="1.2"/>
<ellipse cx="409.50" cy="777.70" rx="1.8" ry="2.6" fill="#fff" stroke="#15202a" stroke-width="1.2"/>
<path d="M428.20,791.00 C427.73,790.67 426.80,795.50 426.60,798.00 C426.40,800.50 426.67,804.17 427.00,806.00 C427.33,807.83 428.20,810.00 428.60,809.00 C429.00,808.00 429.47,803.00 429.40,800.00 C429.33,797.00 428.67,791.33 428.20,791.00 Z" fill="#fff" stroke="#15202a" stroke-width="0.6"/>
<path d="M430.30,789.50 C431.18,787.92 433.18,786.65 434.50,786.40 C435.82,786.15 437.40,786.77 438.20,788.00 C439.00,789.23 439.40,791.07 439.30,793.80 C439.20,796.53 437.82,800.87 437.60,804.40 C437.38,807.93 437.37,812.17 438.00,815.00 C438.63,817.83 441.10,819.87 441.40,821.40 C441.70,822.93 440.95,823.73 439.80,824.20 C438.65,824.67 436.00,824.85 434.50,824.20 C433.00,823.55 431.68,822.37 430.80,820.30 C429.92,818.23 429.47,815.87 429.20,811.80 C428.93,807.73 429.02,799.62 429.20,795.90 C429.38,792.18 429.42,791.08 430.30,789.50 Z" fill="#3048a3" stroke="#142060" stroke-width="1.3"/>
<path d="M409.10,822.40 C409.88,821.07 411.88,819.23 413.30,818.70 C414.72,818.17 416.18,818.23 417.60,819.20 C419.02,820.17 420.03,822.73 421.80,824.50 C423.57,826.27 426.60,828.03 428.20,829.80 C429.80,831.57 431.23,833.33 431.40,835.10 C431.57,836.87 430.27,839.42 429.20,840.40 C428.13,841.38 427.12,841.52 425.00,841.00 C422.88,840.48 418.80,838.80 416.50,837.30 C414.20,835.80 412.52,833.77 411.20,832.00 C409.88,830.23 408.95,828.30 408.60,826.70 C408.25,825.10 408.32,823.73 409.10,822.40 Z" fill="#3048a3" stroke="#142060" stroke-width="1.3"/>
<path d="M569.90,694.20 C572.17,694.43 574.88,695.88 576.70,696.50 C578.52,697.12 578.98,697.67 580.80,697.90 C582.62,698.13 585.78,697.33 587.60,697.90 C589.42,698.47 590.78,699.37 591.70,701.30 C592.62,703.23 592.63,706.55 593.10,709.50 C593.57,712.45 593.60,716.38 594.50,719.00 C595.40,721.62 596.83,723.62 598.50,725.20 C600.17,726.78 602.38,727.62 604.50,728.50 C606.62,729.38 608.97,729.20 611.20,730.50 C613.43,731.80 616.35,733.92 617.90,736.30 C619.45,738.68 620.33,742.15 620.50,744.80 C620.67,747.45 620.05,749.90 618.90,752.20 C617.75,754.50 615.53,756.83 613.60,758.60 C611.67,760.37 608.88,761.30 607.30,762.80 C605.72,764.30 604.37,766.27 604.10,767.60 C603.83,768.93 605.00,769.83 605.70,770.80 C606.40,771.77 607.95,772.62 608.30,773.40 C608.65,774.18 608.32,775.10 607.80,775.50 C607.28,775.90 605.63,774.55 605.20,775.80 C604.77,777.05 605.57,780.83 605.20,783.00 C604.83,785.17 604.15,786.83 603.00,788.80 C601.85,790.77 599.55,791.93 598.30,794.80 C597.05,797.67 596.13,802.47 595.50,806.00 C594.87,809.53 595.17,813.00 594.50,816.00 C593.83,819.00 592.45,822.42 591.50,824.00 C590.55,825.58 589.78,824.88 588.80,825.50 C587.82,826.12 586.83,827.70 585.60,827.70 C584.37,827.70 583.42,825.62 581.40,825.50 C579.38,825.38 575.88,826.28 573.50,827.00 C571.12,827.72 569.32,828.28 567.10,829.80 C564.88,831.32 562.07,834.33 560.20,836.10 C558.33,837.87 557.05,839.97 555.90,840.40 C554.75,840.83 553.65,839.57 553.30,838.70 C552.95,837.83 553.03,836.75 553.80,835.20 C554.57,833.65 557.32,830.95 557.90,829.40 C558.48,827.85 557.78,825.90 557.30,825.90 C556.82,825.90 556.35,828.53 555.00,829.40 C553.65,830.27 551.13,831.50 549.20,831.10 C547.27,830.70 545.05,829.23 543.40,827.00 C541.75,824.77 539.78,820.60 539.30,817.70 C538.82,814.80 539.63,811.82 540.50,809.60 C541.37,807.38 544.40,805.57 544.50,804.40 C544.60,803.23 542.45,804.45 541.10,802.60 C539.75,800.75 537.67,797.75 536.40,793.30 C535.13,788.85 533.70,780.73 533.50,775.90 C533.30,771.07 534.48,767.18 535.20,764.30 C535.92,761.42 536.80,760.23 537.80,758.60 C538.80,756.97 540.05,755.42 541.20,754.50 C542.35,753.58 543.55,752.88 544.70,753.10 C545.85,753.32 547.08,756.02 548.10,755.80 C549.12,755.58 550.23,753.27 550.80,751.80 C551.37,750.33 551.95,748.15 551.50,747.00 C551.05,745.85 550.03,745.02 548.10,744.90 C546.17,744.78 542.87,746.52 539.90,746.30 C536.93,746.08 533.27,744.62 530.30,743.60 C527.33,742.58 524.03,741.80 522.10,740.20 C520.17,738.60 519.60,736.40 518.70,734.00 C517.80,731.60 516.92,727.73 516.70,725.80 C516.48,723.87 516.50,723.08 517.40,722.40 C518.30,721.72 520.40,722.15 522.10,721.70 C523.80,721.25 525.77,720.03 527.60,719.70 C529.43,719.37 531.40,719.93 533.10,719.70 C534.80,719.47 536.22,719.43 537.80,718.30 C539.38,717.17 540.67,715.05 542.60,712.90 C544.53,710.75 547.13,707.45 549.40,705.40 C551.67,703.35 553.92,702.32 556.20,700.60 C558.48,698.88 560.82,696.17 563.10,695.10 C565.38,694.03 567.63,693.97 569.90,694.20 Z" fill="#ddb0b6" stroke="#15202a" stroke-width="1.3" stroke-linejoin="round"/>
<path d="M529.00,719.90 C528.62,720.32 527.35,721.42 526.70,722.40 C526.05,723.38 525.18,724.67 525.10,725.80 C525.02,726.93 525.50,728.37 526.20,729.20 C526.90,730.03 528.78,730.53 529.30,730.80 " fill="none" stroke="#15202a" stroke-width="1.3"/>
<ellipse cx="564.50" cy="745.60" rx="3.2" ry="3.8" fill="#fff" stroke="#15202a" stroke-width="1.2"/>
<ellipse cx="586.90" cy="738.10" rx="2.0" ry="2.6" fill="#fff" stroke="#15202a" stroke-width="1.2"/>
<ellipse cx="568.00" cy="778.70" rx="1.8" ry="2.6" fill="#fff" stroke="#15202a" stroke-width="1.2"/>
<path d="M586.70,792.00 C586.23,791.67 585.30,796.50 585.10,799.00 C584.90,801.50 585.17,805.17 585.50,807.00 C585.83,808.83 586.70,811.00 587.10,810.00 C587.50,809.00 587.97,804.00 587.90,801.00 C587.83,798.00 587.17,792.33 586.70,792.00 Z" fill="#fff" stroke="#15202a" stroke-width="0.6"/>
<path d="M588.80,790.50 C589.68,788.92 591.68,787.65 593.00,787.40 C594.32,787.15 595.90,787.77 596.70,789.00 C597.50,790.23 597.90,792.07 597.80,794.80 C597.70,797.53 596.32,801.87 596.10,805.40 C595.88,808.93 595.87,813.17 596.50,816.00 C597.13,818.83 599.60,820.87 599.90,822.40 C600.20,823.93 599.45,824.73 598.30,825.20 C597.15,825.67 594.50,825.85 593.00,825.20 C591.50,824.55 590.18,823.37 589.30,821.30 C588.42,819.23 587.97,816.87 587.70,812.80 C587.43,808.73 587.52,800.62 587.70,796.90 C587.88,793.18 587.92,792.08 588.80,790.50 Z" fill="#c4202c" stroke="#5a0c10" stroke-width="1.3"/>
<path d="M567.60,823.40 C568.38,822.07 570.38,820.23 571.80,819.70 C573.22,819.17 574.68,819.23 576.10,820.20 C577.52,821.17 578.53,823.73 580.30,825.50 C582.07,827.27 585.10,829.03 586.70,830.80 C588.30,832.57 589.73,834.33 589.90,836.10 C590.07,837.87 588.77,840.42 587.70,841.40 C586.63,842.38 585.62,842.52 583.50,842.00 C581.38,841.48 577.30,839.80 575.00,838.30 C572.70,836.80 571.02,834.77 569.70,833.00 C568.38,831.23 567.45,829.30 567.10,827.70 C566.75,826.10 566.82,824.73 567.60,823.40 Z" fill="#c4202c" stroke="#5a0c10" stroke-width="1.3"/>
<line x1="435.6" y1="798" x2="480" y2="756.4" stroke="#8c8c8c" stroke-width="1"/>
<line x1="511.4" y1="756.4" x2="594" y2="798" stroke="#8c8c8c" stroke-width="1"/>
<line x1="422.9" y1="834.1" x2="480" y2="841.8" stroke="#8c8c8c" stroke-width="1"/>
<line x1="511.4" y1="841.8" x2="579" y2="834.5" stroke="#8c8c8c" stroke-width="1"/>
<path d="M410.1,833 C414,835.5 417,838.5 417,842 C417,846 414,848.3 410.1,848.9 C404,849.8 395,850.8 387.5,852" fill="none" stroke="#c8202e" stroke-width="1.8"/>
<polyline points="386.80,852.20 383.92,849.54 383.08,853.37 380.21,850.71 379.37,854.53 376.49,851.87 375.65,855.70 372.77,853.04 371.93,856.87 369.06,854.21 368.22,858.03 365.34,855.37 364.50,859.20" fill="none" stroke="#d23a48" stroke-width="0.8"/>
<path d="M439.5,807.7 C439.3,811 440.5,814 443.6,814.5 C447,815 450,812 453.6,811.4 C457,810.8 461,812.5 464.5,812.7 C468,812.8 471,811 473.6,809.5" fill="none" stroke="#3a5cb0" stroke-width="1.8"/>
<text x="475.2" y="811.8" font-size="6" fill="#5570c0" transform="rotate(-22 475.2 811.8)">AA</text>
<path d="M598.5,801.7 C597.5,806 596.8,810 599,813.5 C601,816.5 607,816.3 614.4,813.9 C619,812 623,809 627.6,807" fill="none" stroke="#c8202e" stroke-width="1.8"/>
<polyline points="628.20,807.20 631.21,809.79 632.08,805.92 635.09,808.50 635.97,804.63 638.98,807.22 639.85,803.35 642.86,805.94 643.73,802.07 646.74,804.65 647.62,800.78 650.63,803.37 651.50,799.50" fill="none" stroke="#d23a48" stroke-width="0.8"/>
<path d="M573.3,837.7 C575,839.5 576,842.5 574.5,844.8 C572.5,847.5 566,847.5 560,848.3 C556,849 553.5,852.5 550.5,854 C548,855 545,854.7 542.5,854.7" fill="none" stroke="#3a5cb0" stroke-width="1.8"/>
<text x="534.2" y="857.2" font-size="6.5" fill="#5570c0">AA</text>
<circle cx="446.8" cy="804.1" r="3.7" fill="#111"/>
<line x1="444.3" y1="804.1" x2="449.3" y2="804.1" stroke="#fff" stroke-width="1.1"/>
<line x1="446.8" y1="801.6" x2="446.8" y2="806.6" stroke="#fff" stroke-width="1.1"/>
<circle cx="421.8" cy="846.8" r="3.7" fill="#111"/>
<line x1="419.3" y1="846.8" x2="424.3" y2="846.8" stroke="#fff" stroke-width="1.1"/>
<circle cx="604.3" cy="803.8" r="3.7" fill="#111"/>
<line x1="601.8" y1="803.8" x2="606.8" y2="803.8" stroke="#fff" stroke-width="1.1"/>
<line x1="604.3" y1="801.3" x2="604.3" y2="806.3" stroke="#fff" stroke-width="1.1"/>
<circle cx="580.1" cy="846.7" r="3.7" fill="#111"/>
<line x1="577.6" y1="846.7" x2="582.6" y2="846.7" stroke="#fff" stroke-width="1.1"/>
<text x="409.00" y="677.40" font-size="11.5" text-anchor="middle" fill="#1a1a1a" textLength="64.9" lengthAdjust="spacingAndGlyphs">Maternal-type</text>
<text x="409.70" y="689.60" font-size="11.5" text-anchor="middle" fill="#1a1a1a" textLength="20.5" lengthAdjust="spacingAndGlyphs">SSU</text>
<text x="567.50" y="677.40" font-size="11.5" text-anchor="middle" fill="#1a1a1a" textLength="62" lengthAdjust="spacingAndGlyphs">Somatic-type</text>
<text x="567.90" y="689.60" font-size="11.5" text-anchor="middle" fill="#1a1a1a" textLength="20.5" lengthAdjust="spacingAndGlyphs">SSU</text>
<text x="495.60" y="759.10" font-size="10.8" text-anchor="middle" fill="#222" textLength="27.7" lengthAdjust="spacingAndGlyphs">ES6S</text>
<text x="495.60" y="846.40" font-size="10.8" text-anchor="middle" fill="#222" textLength="27.7" lengthAdjust="spacingAndGlyphs">ES3S</text>
</svg>
</body></html>
